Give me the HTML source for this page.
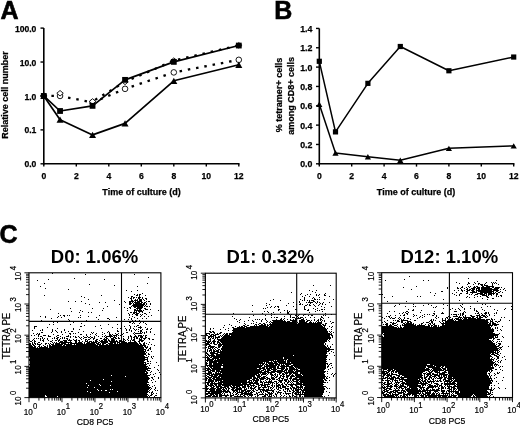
<!DOCTYPE html>
<html><head><meta charset="utf-8"><style>
html,body{margin:0;padding:0;background:#fff;width:520px;height:427px;overflow:hidden}
svg{display:block;will-change:transform}
text{font-family:"Liberation Sans", sans-serif;fill:#000}
text[font-weight="bold"]{stroke:#000;stroke-width:0.25px}
text[font-weight="normal"],text:not([font-weight]){stroke:#000;stroke-width:0.2px}
</style></head><body>
<svg width="520" height="427" viewBox="0 0 520 427">
<text x="0.40" y="18.60" font-size="25" font-weight="bold" text-anchor="start" style="stroke-width:0.6px">A</text>
<line x1="43.80" y1="28.10" x2="43.80" y2="164.55" stroke="#000" stroke-width="1.6" />
<line x1="43.00" y1="163.80" x2="239.55" y2="163.80" stroke="#000" stroke-width="1.6" />
<line x1="40.50" y1="163.80" x2="43.80" y2="163.80" stroke="#000" stroke-width="1.4" />
<text x="36.40" y="167.40" font-size="8.6" font-weight="bold" text-anchor="end" >0.0</text>
<line x1="40.50" y1="129.88" x2="43.80" y2="129.88" stroke="#000" stroke-width="1.4" />
<text x="36.40" y="133.47" font-size="8.6" font-weight="bold" text-anchor="end" >0.1</text>
<line x1="40.50" y1="95.95" x2="43.80" y2="95.95" stroke="#000" stroke-width="1.4" />
<text x="36.40" y="99.55" font-size="8.6" font-weight="bold" text-anchor="end" >1.0</text>
<line x1="40.50" y1="62.03" x2="43.80" y2="62.03" stroke="#000" stroke-width="1.4" />
<text x="36.40" y="65.62" font-size="8.6" font-weight="bold" text-anchor="end" >10.0</text>
<line x1="40.50" y1="28.10" x2="43.80" y2="28.10" stroke="#000" stroke-width="1.4" />
<text x="36.40" y="31.70" font-size="8.6" font-weight="bold" text-anchor="end" >100.0</text>
<line x1="43.80" y1="163.80" x2="43.80" y2="166.60" stroke="#000" stroke-width="1.4" />
<text x="43.80" y="179.20" font-size="8.6" font-weight="bold" text-anchor="middle" >0</text>
<line x1="76.30" y1="163.80" x2="76.30" y2="166.60" stroke="#000" stroke-width="1.4" />
<text x="76.30" y="179.20" font-size="8.6" font-weight="bold" text-anchor="middle" >2</text>
<line x1="108.80" y1="163.80" x2="108.80" y2="166.60" stroke="#000" stroke-width="1.4" />
<text x="108.80" y="179.20" font-size="8.6" font-weight="bold" text-anchor="middle" >4</text>
<line x1="141.30" y1="163.80" x2="141.30" y2="166.60" stroke="#000" stroke-width="1.4" />
<text x="141.30" y="179.20" font-size="8.6" font-weight="bold" text-anchor="middle" >6</text>
<line x1="173.80" y1="163.80" x2="173.80" y2="166.60" stroke="#000" stroke-width="1.4" />
<text x="173.80" y="179.20" font-size="8.6" font-weight="bold" text-anchor="middle" >8</text>
<line x1="206.30" y1="163.80" x2="206.30" y2="166.60" stroke="#000" stroke-width="1.4" />
<text x="206.30" y="179.20" font-size="8.6" font-weight="bold" text-anchor="middle" >10</text>
<line x1="238.80" y1="163.80" x2="238.80" y2="166.60" stroke="#000" stroke-width="1.4" />
<text x="238.80" y="179.20" font-size="8.6" font-weight="bold" text-anchor="middle" >12</text>
<text x="141.50" y="195.00" font-size="9" font-weight="bold" text-anchor="middle" >Time of culture (d)</text>
<text transform="translate(8.3,95) rotate(-90)" font-size="9" font-weight="bold" text-anchor="middle">Relative cell number</text>
<path d="M92.55 101.42L125.05 81.87L173.80 60.62L238.80 45.36" fill="none" stroke="#000" stroke-width="2.3" stroke-linejoin="round" stroke-dasharray="2.5 5.9" stroke-dashoffset="-3"/>
<path d="M43.80 95.95L60.05 95.95L92.55 102.53L125.05 88.84L173.80 72.39L238.80 59.84" fill="none" stroke="#000" stroke-width="2.3" stroke-linejoin="round" stroke-dasharray="2.5 5.9" stroke-dashoffset="0.8"/>
<path d="M43.80 95.95L60.05 119.66L92.55 134.92L125.05 123.42L173.80 80.78L238.80 64.77" fill="none" stroke="#000" stroke-width="1.7" stroke-linejoin="round" />
<path d="M43.80 95.95L60.05 111.00L92.55 105.87L125.05 79.86L173.80 61.88L238.80 45.55" fill="none" stroke="#000" stroke-width="1.7" stroke-linejoin="round" />
<circle cx="43.80" cy="95.95" r="2.8" fill="#fff" stroke="#000" stroke-width="0.9"/>
<circle cx="60.05" cy="95.95" r="2.8" fill="#fff" stroke="#000" stroke-width="0.9"/>
<circle cx="92.55" cy="102.53" r="2.8" fill="#fff" stroke="#000" stroke-width="0.9"/>
<circle cx="125.05" cy="88.84" r="2.8" fill="#fff" stroke="#000" stroke-width="0.9"/>
<circle cx="173.80" cy="72.39" r="2.8" fill="#fff" stroke="#000" stroke-width="0.9"/>
<circle cx="238.80" cy="59.84" r="2.8" fill="#fff" stroke="#000" stroke-width="0.9"/>
<path d="M43.80 93.20L47.05 95.95L43.80 98.70L40.55 95.95Z" fill="#fff" stroke="#000" stroke-width="0.9"/>
<path d="M60.05 90.51L63.30 93.26L60.05 96.01L56.80 93.26Z" fill="#fff" stroke="#000" stroke-width="0.9"/>
<path d="M92.55 98.67L95.80 101.42L92.55 104.17L89.30 101.42Z" fill="#fff" stroke="#000" stroke-width="0.9"/>
<path d="M125.05 79.12L128.30 81.87L125.05 84.62L121.80 81.87Z" fill="#fff" stroke="#000" stroke-width="0.9"/>
<path d="M173.80 57.87L177.05 60.62L173.80 63.37L170.55 60.62Z" fill="#fff" stroke="#000" stroke-width="0.9"/>
<path d="M238.80 42.61L242.05 45.36L238.80 48.11L235.55 45.36Z" fill="#fff" stroke="#000" stroke-width="0.9"/>
<path d="M43.80 92.80L47.30 99.10L40.30 99.10Z" fill="#000"/>
<path d="M60.05 116.51L63.55 122.81L56.55 122.81Z" fill="#000"/>
<path d="M92.55 131.77L96.05 138.07L89.05 138.07Z" fill="#000"/>
<path d="M125.05 120.27L128.55 126.57L121.55 126.57Z" fill="#000"/>
<path d="M173.80 77.63L177.30 83.93L170.30 83.93Z" fill="#000"/>
<path d="M238.80 61.62L242.30 67.92L235.30 67.92Z" fill="#000"/>
<rect x="40.90" y="93.05" width="5.8" height="5.8" fill="#000"/>
<rect x="57.15" y="108.10" width="5.8" height="5.8" fill="#000"/>
<rect x="89.65" y="102.97" width="5.8" height="5.8" fill="#000"/>
<rect x="122.15" y="76.96" width="5.8" height="5.8" fill="#000"/>
<rect x="170.90" y="58.98" width="5.8" height="5.8" fill="#000"/>
<rect x="235.90" y="42.65" width="5.8" height="5.8" fill="#000"/>
<text x="274.30" y="18.50" font-size="25" font-weight="bold" text-anchor="start" style="stroke-width:0.6px">B</text>
<line x1="319.30" y1="28.42" x2="319.30" y2="164.55" stroke="#000" stroke-width="1.6" />
<line x1="318.50" y1="163.80" x2="514.45" y2="163.80" stroke="#000" stroke-width="1.6" />
<line x1="316.00" y1="163.80" x2="319.30" y2="163.80" stroke="#000" stroke-width="1.4" />
<text x="312.40" y="167.30" font-size="8.8" font-weight="bold" text-anchor="end" >0.0</text>
<line x1="316.00" y1="144.46" x2="319.30" y2="144.46" stroke="#000" stroke-width="1.4" />
<text x="312.40" y="147.96" font-size="8.8" font-weight="bold" text-anchor="end" >0.2</text>
<line x1="316.00" y1="125.12" x2="319.30" y2="125.12" stroke="#000" stroke-width="1.4" />
<text x="312.40" y="128.62" font-size="8.8" font-weight="bold" text-anchor="end" >0.4</text>
<line x1="316.00" y1="105.78" x2="319.30" y2="105.78" stroke="#000" stroke-width="1.4" />
<text x="312.40" y="109.28" font-size="8.8" font-weight="bold" text-anchor="end" >0.6</text>
<line x1="316.00" y1="86.44" x2="319.30" y2="86.44" stroke="#000" stroke-width="1.4" />
<text x="312.40" y="89.94" font-size="8.8" font-weight="bold" text-anchor="end" >0.8</text>
<line x1="316.00" y1="67.10" x2="319.30" y2="67.10" stroke="#000" stroke-width="1.4" />
<text x="312.40" y="70.60" font-size="8.8" font-weight="bold" text-anchor="end" >1.0</text>
<line x1="316.00" y1="47.76" x2="319.30" y2="47.76" stroke="#000" stroke-width="1.4" />
<text x="312.40" y="51.26" font-size="8.8" font-weight="bold" text-anchor="end" >1.2</text>
<line x1="316.00" y1="28.42" x2="319.30" y2="28.42" stroke="#000" stroke-width="1.4" />
<text x="312.40" y="31.92" font-size="8.8" font-weight="bold" text-anchor="end" >1.4</text>
<line x1="319.30" y1="163.80" x2="319.30" y2="166.60" stroke="#000" stroke-width="1.4" />
<text x="319.30" y="179.20" font-size="8.6" font-weight="bold" text-anchor="middle" >0</text>
<line x1="351.70" y1="163.80" x2="351.70" y2="166.60" stroke="#000" stroke-width="1.4" />
<text x="351.70" y="179.20" font-size="8.6" font-weight="bold" text-anchor="middle" >2</text>
<line x1="384.10" y1="163.80" x2="384.10" y2="166.60" stroke="#000" stroke-width="1.4" />
<text x="384.10" y="179.20" font-size="8.6" font-weight="bold" text-anchor="middle" >4</text>
<line x1="416.50" y1="163.80" x2="416.50" y2="166.60" stroke="#000" stroke-width="1.4" />
<text x="416.50" y="179.20" font-size="8.6" font-weight="bold" text-anchor="middle" >6</text>
<line x1="448.90" y1="163.80" x2="448.90" y2="166.60" stroke="#000" stroke-width="1.4" />
<text x="448.90" y="179.20" font-size="8.6" font-weight="bold" text-anchor="middle" >8</text>
<line x1="481.30" y1="163.80" x2="481.30" y2="166.60" stroke="#000" stroke-width="1.4" />
<text x="481.30" y="179.20" font-size="8.6" font-weight="bold" text-anchor="middle" >10</text>
<line x1="513.70" y1="163.80" x2="513.70" y2="166.60" stroke="#000" stroke-width="1.4" />
<text x="513.70" y="179.20" font-size="8.6" font-weight="bold" text-anchor="middle" >12</text>
<text x="416.00" y="195.00" font-size="9" font-weight="bold" text-anchor="middle" >Time of culture (d)</text>
<text transform="translate(282.3,95) rotate(-90)" font-size="9" font-weight="bold" text-anchor="middle">% tetramer+ cells</text>
<text transform="translate(293.5,95.8) rotate(-90)" font-size="9" font-weight="bold" text-anchor="middle">among CD8+ cells</text>
<path d="M319.30 61.30L335.50 131.89L367.90 83.35L400.30 46.50L448.90 70.77L513.70 57.04" fill="none" stroke="#000" stroke-width="1.5" stroke-linejoin="round" />
<path d="M319.30 104.23L335.50 152.97L367.90 156.74L400.30 160.22L448.90 148.33L513.70 145.91" fill="none" stroke="#000" stroke-width="1.5" stroke-linejoin="round" />
<rect x="316.70" y="58.70" width="5.2" height="5.2" fill="#000"/>
<rect x="332.90" y="129.29" width="5.2" height="5.2" fill="#000"/>
<rect x="365.30" y="80.75" width="5.2" height="5.2" fill="#000"/>
<rect x="397.70" y="43.90" width="5.2" height="5.2" fill="#000"/>
<rect x="446.30" y="68.17" width="5.2" height="5.2" fill="#000"/>
<rect x="511.10" y="54.44" width="5.2" height="5.2" fill="#000"/>
<path d="M319.30 101.53L322.40 106.93L316.20 106.93Z" fill="#000"/>
<path d="M335.50 150.27L338.60 155.67L332.40 155.67Z" fill="#000"/>
<path d="M367.90 154.04L371.00 159.44L364.80 159.44Z" fill="#000"/>
<path d="M400.30 157.52L403.40 162.92L397.20 162.92Z" fill="#000"/>
<path d="M448.90 145.63L452.00 151.03L445.80 151.03Z" fill="#000"/>
<path d="M513.70 143.21L516.80 148.61L510.60 148.61Z" fill="#000"/>
<path d="M52 273h1v1h-1zM85 274h1v1h-1zM134 274h1v1h-1zM409 276h1v1h-1zM148 277h1v1h-1zM74 278h1v1h-1zM468 278h1v1h-1zM48 279h1v1h-1zM104 279h1v1h-1zM404 279h1v1h-1zM37 280h1v1h-1zM385 280h1v1h-1zM423 280h1v1h-1zM428 280h1v1h-1zM496 280h1v1h-1zM477 281h1v1h-1zM456 282h1v1h-1zM468 282h1v1h-1zM474 282h1v1h-1zM486 282h1v1h-1zM491 282h1v1h-1zM493 282h1v1h-1zM495 282h1v1h-1zM44 283h1v1h-1zM147 283h1v1h-1zM459 283h1v1h-1zM468 283h2v1h-2zM475 283h1v1h-1zM478 283h2v1h-2zM485 283h1v1h-1zM492 283h1v1h-1zM494 283h1v1h-1zM496 283h1v1h-1zM89 284h1v1h-1zM467 284h1v1h-1zM473 284h1v1h-1zM478 284h1v1h-1zM480 284h3v1h-3zM484 284h1v1h-1zM492 284h1v1h-1zM498 284h1v1h-1zM114 285h1v1h-1zM313 285h1v1h-1zM330 285h1v1h-1zM481 285h2v1h-2zM484 285h4v1h-4zM492 285h1v1h-1zM40 286h1v1h-1zM137 286h1v1h-1zM416 286h1v1h-1zM449 286h1v1h-1zM462 286h1v1h-1zM468 286h1v1h-1zM470 286h1v1h-1zM474 286h1v1h-1zM476 286h2v1h-2zM482 286h2v1h-2zM486 286h8v1h-8zM403 287h1v1h-1zM447 287h1v1h-1zM457 287h1v1h-1zM461 287h2v1h-2zM466 287h1v1h-1zM469 287h1v1h-1zM473 287h3v1h-3zM477 287h3v1h-3zM481 287h9v1h-9zM492 287h2v1h-2zM495 287h5v1h-5zM501 287h1v1h-1zM45 288h1v1h-1zM447 288h1v1h-1zM457 288h2v1h-2zM460 288h1v1h-1zM464 288h1v1h-1zM467 288h1v1h-1zM471 288h4v1h-4zM476 288h4v1h-4zM481 288h11v1h-11zM494 288h5v1h-5zM504 288h1v1h-1zM68 289h1v1h-1zM411 289h1v1h-1zM461 289h1v1h-1zM466 289h2v1h-2zM469 289h2v1h-2zM472 289h3v1h-3zM476 289h1v1h-1zM478 289h2v1h-2zM481 289h17v1h-17zM500 289h1v1h-1zM503 289h1v1h-1zM126 290h1v1h-1zM137 290h1v1h-1zM309 290h1v1h-1zM316 290h1v1h-1zM454 290h1v1h-1zM458 290h1v1h-1zM461 290h2v1h-2zM464 290h1v1h-1zM467 290h3v1h-3zM471 290h3v1h-3zM476 290h16v1h-16zM493 290h6v1h-6zM505 290h1v1h-1zM131 291h1v1h-1zM312 291h1v1h-1zM441 291h2v1h-2zM462 291h1v1h-1zM466 291h2v1h-2zM472 291h3v1h-3zM476 291h1v1h-1zM478 291h16v1h-16zM496 291h2v1h-2zM500 291h1v1h-1zM291 292h1v1h-1zM315 292h1v1h-1zM430 292h1v1h-1zM456 292h1v1h-1zM467 292h1v1h-1zM470 292h7v1h-7zM480 292h12v1h-12zM493 292h1v1h-1zM495 292h1v1h-1zM498 292h2v1h-2zM502 292h1v1h-1zM142 293h1v1h-1zM301 293h1v1h-1zM325 293h1v1h-1zM435 293h1v1h-1zM452 293h1v1h-1zM460 293h2v1h-2zM466 293h2v1h-2zM472 293h1v1h-1zM477 293h6v1h-6zM484 293h3v1h-3zM488 293h7v1h-7zM496 293h2v1h-2zM134 294h1v1h-1zM137 294h1v1h-1zM139 294h2v1h-2zM300 294h1v1h-1zM307 294h1v1h-1zM310 294h1v1h-1zM316 294h1v1h-1zM319 294h1v1h-1zM324 294h1v1h-1zM382 294h1v1h-1zM454 294h1v1h-1zM459 294h1v1h-1zM469 294h1v1h-1zM471 294h1v1h-1zM475 294h3v1h-3zM480 294h5v1h-5zM486 294h1v1h-1zM488 294h4v1h-4zM493 294h1v1h-1zM496 294h2v1h-2zM44 295h1v1h-1zM101 295h1v1h-1zM136 295h2v1h-2zM139 295h1v1h-1zM145 295h1v1h-1zM305 295h1v1h-1zM316 295h1v1h-1zM318 295h1v1h-1zM324 295h2v1h-2zM434 295h1v1h-1zM456 295h1v1h-1zM459 295h1v1h-1zM474 295h1v1h-1zM482 295h5v1h-5zM488 295h1v1h-1zM491 295h1v1h-1zM496 295h1v1h-1zM500 295h2v1h-2zM81 296h1v1h-1zM131 296h2v1h-2zM139 296h1v1h-1zM302 296h1v1h-1zM309 296h1v1h-1zM329 296h1v1h-1zM392 296h1v1h-1zM417 296h1v1h-1zM420 296h1v1h-1zM467 296h1v1h-1zM477 296h1v1h-1zM480 296h1v1h-1zM486 296h2v1h-2zM496 296h1v1h-1zM498 296h1v1h-1zM501 296h1v1h-1zM84 297h1v1h-1zM128 297h1v1h-1zM131 297h1v1h-1zM133 297h2v1h-2zM136 297h1v1h-1zM138 297h3v1h-3zM142 297h1v1h-1zM304 297h1v1h-1zM313 297h1v1h-1zM319 297h1v1h-1zM384 297h1v1h-1zM466 297h1v1h-1zM469 297h1v1h-1zM474 297h1v1h-1zM487 297h2v1h-2zM130 298h2v1h-2zM133 298h1v1h-1zM138 298h2v1h-2zM142 298h1v1h-1zM145 298h2v1h-2zM304 298h1v1h-1zM312 298h1v1h-1zM314 298h1v1h-1zM482 298h1v1h-1zM492 298h2v1h-2zM88 299h1v1h-1zM131 299h1v1h-1zM135 299h1v1h-1zM137 299h1v1h-1zM139 299h3v1h-3zM143 299h1v1h-1zM146 299h1v1h-1zM273 299h1v1h-1zM300 299h1v1h-1zM304 299h1v1h-1zM314 299h2v1h-2zM317 299h1v1h-1zM319 299h1v1h-1zM324 299h1v1h-1zM333 299h1v1h-1zM443 299h1v1h-1zM487 299h1v1h-1zM114 300h1v1h-1zM131 300h2v1h-2zM134 300h4v1h-4zM139 300h3v1h-3zM144 300h1v1h-1zM270 300h1v1h-1zM280 300h1v1h-1zM302 300h1v1h-1zM304 300h1v1h-1zM307 300h1v1h-1zM309 300h1v1h-1zM311 300h3v1h-3zM459 300h1v1h-1zM68 301h1v1h-1zM75 301h1v1h-1zM81 301h1v1h-1zM124 301h1v1h-1zM129 301h5v1h-5zM135 301h1v1h-1zM137 301h5v1h-5zM146 301h1v1h-1zM148 301h2v1h-2zM299 301h1v1h-1zM309 301h1v1h-1zM313 301h2v1h-2zM317 301h1v1h-1zM387 301h1v1h-1zM406 301h1v1h-1zM477 301h1v1h-1zM99 302h1v1h-1zM105 302h1v1h-1zM125 302h1v1h-1zM129 302h2v1h-2zM132 302h1v1h-1zM134 302h6v1h-6zM141 302h2v1h-2zM144 302h2v1h-2zM293 302h1v1h-1zM299 302h1v1h-1zM306 302h1v1h-1zM308 302h5v1h-5zM315 302h1v1h-1zM317 302h1v1h-1zM319 302h1v1h-1zM323 302h1v1h-1zM329 302h1v1h-1zM85 303h1v1h-1zM129 303h3v1h-3zM133 303h1v1h-1zM135 303h7v1h-7zM143 303h2v1h-2zM146 303h1v1h-1zM150 303h1v1h-1zM266 303h1v1h-1zM288 303h1v1h-1zM300 303h1v1h-1zM310 303h1v1h-1zM316 303h1v1h-1zM320 303h1v1h-1zM322 303h1v1h-1zM89 304h1v1h-1zM119 304h1v1h-1zM129 304h2v1h-2zM133 304h12v1h-12zM146 304h1v1h-1zM150 304h1v1h-1zM269 304h1v1h-1zM296 304h1v1h-1zM299 304h2v1h-2zM302 304h1v1h-1zM307 304h1v1h-1zM309 304h1v1h-1zM313 304h1v1h-1zM319 304h1v1h-1zM322 304h1v1h-1zM325 304h1v1h-1zM399 304h1v1h-1zM413 304h1v1h-1zM428 304h1v1h-1zM443 304h1v1h-1zM462 304h1v1h-1zM482 304h1v1h-1zM485 304h1v1h-1zM132 305h12v1h-12zM145 305h1v1h-1zM252 305h1v1h-1zM266 305h1v1h-1zM286 305h1v1h-1zM305 305h2v1h-2zM309 305h2v1h-2zM314 305h1v1h-1zM318 305h1v1h-1zM395 305h1v1h-1zM423 305h1v1h-1zM431 305h1v1h-1zM447 305h1v1h-1zM460 305h1v1h-1zM107 306h1v1h-1zM131 306h1v1h-1zM133 306h10v1h-10zM144 306h1v1h-1zM146 306h2v1h-2zM149 306h1v1h-1zM271 306h1v1h-1zM275 306h1v1h-1zM277 306h2v1h-2zM293 306h1v1h-1zM304 306h1v1h-1zM315 306h1v1h-1zM321 306h1v1h-1zM331 306h1v1h-1zM394 306h1v1h-1zM405 306h1v1h-1zM413 306h1v1h-1zM415 306h1v1h-1zM436 306h1v1h-1zM461 306h1v1h-1zM470 306h1v1h-1zM487 306h1v1h-1zM490 306h1v1h-1zM511 306h1v1h-1zM124 307h1v1h-1zM129 307h2v1h-2zM134 307h2v1h-2zM137 307h6v1h-6zM267 307h1v1h-1zM270 307h1v1h-1zM274 307h1v1h-1zM278 307h1v1h-1zM304 307h1v1h-1zM324 307h1v1h-1zM433 307h1v1h-1zM435 307h1v1h-1zM462 307h1v1h-1zM481 307h1v1h-1zM70 308h1v1h-1zM92 308h1v1h-1zM103 308h1v1h-1zM127 308h1v1h-1zM130 308h1v1h-1zM136 308h6v1h-6zM144 308h2v1h-2zM263 308h1v1h-1zM265 308h1v1h-1zM304 308h1v1h-1zM313 308h1v1h-1zM317 308h1v1h-1zM443 308h1v1h-1zM452 308h1v1h-1zM458 308h1v1h-1zM464 308h1v1h-1zM470 308h1v1h-1zM474 308h1v1h-1zM505 308h1v1h-1zM50 309h1v1h-1zM134 309h2v1h-2zM137 309h1v1h-1zM139 309h2v1h-2zM145 309h3v1h-3zM150 309h1v1h-1zM278 309h2v1h-2zM295 309h2v1h-2zM304 309h2v1h-2zM308 309h1v1h-1zM315 309h1v1h-1zM321 309h2v1h-2zM324 309h1v1h-1zM408 309h1v1h-1zM413 309h1v1h-1zM450 309h1v1h-1zM455 309h1v1h-1zM459 309h1v1h-1zM464 309h1v1h-1zM474 309h1v1h-1zM482 309h1v1h-1zM494 309h1v1h-1zM504 309h1v1h-1zM511 309h1v1h-1zM80 310h1v1h-1zM102 310h1v1h-1zM127 310h1v1h-1zM134 310h8v1h-8zM143 310h1v1h-1zM158 310h1v1h-1zM278 310h1v1h-1zM284 310h1v1h-1zM287 310h1v1h-1zM307 310h2v1h-2zM317 310h1v1h-1zM319 310h1v1h-1zM412 310h2v1h-2zM421 310h1v1h-1zM460 310h1v1h-1zM474 310h1v1h-1zM476 310h1v1h-1zM484 310h1v1h-1zM497 310h1v1h-1zM71 311h1v1h-1zM82 311h1v1h-1zM134 311h1v1h-1zM136 311h1v1h-1zM138 311h5v1h-5zM252 311h1v1h-1zM264 311h1v1h-1zM267 311h1v1h-1zM287 311h1v1h-1zM289 311h1v1h-1zM315 311h1v1h-1zM322 311h1v1h-1zM389 311h1v1h-1zM394 311h1v1h-1zM406 311h2v1h-2zM434 311h1v1h-1zM454 311h3v1h-3zM464 311h1v1h-1zM476 311h2v1h-2zM79 312h1v1h-1zM88 312h1v1h-1zM91 312h1v1h-1zM130 312h2v1h-2zM133 312h4v1h-4zM139 312h1v1h-1zM142 312h1v1h-1zM149 312h1v1h-1zM268 312h1v1h-1zM273 312h1v1h-1zM280 312h1v1h-1zM287 312h2v1h-2zM309 312h1v1h-1zM403 312h1v1h-1zM405 312h1v1h-1zM408 312h1v1h-1zM420 312h1v1h-1zM442 312h1v1h-1zM463 312h1v1h-1zM465 312h1v1h-1zM478 312h1v1h-1zM485 312h2v1h-2zM488 312h1v1h-1zM496 312h1v1h-1zM58 313h1v1h-1zM128 313h1v1h-1zM133 313h2v1h-2zM136 313h3v1h-3zM144 313h2v1h-2zM233 313h1v1h-1zM262 313h1v1h-1zM271 313h1v1h-1zM287 313h2v1h-2zM325 313h1v1h-1zM387 313h1v1h-1zM399 313h1v1h-1zM402 313h1v1h-1zM406 313h2v1h-2zM433 313h2v1h-2zM441 313h3v1h-3zM460 313h1v1h-1zM462 313h2v1h-2zM475 313h1v1h-1zM477 313h2v1h-2zM481 313h1v1h-1zM484 313h3v1h-3zM488 313h1v1h-1zM494 313h1v1h-1zM496 313h1v1h-1zM129 314h1v1h-1zM132 314h1v1h-1zM135 314h3v1h-3zM140 314h1v1h-1zM142 314h1v1h-1zM146 314h1v1h-1zM274 314h1v1h-1zM289 314h1v1h-1zM291 314h1v1h-1zM299 314h1v1h-1zM304 314h2v1h-2zM331 314h1v1h-1zM404 314h1v1h-1zM407 314h1v1h-1zM413 314h1v1h-1zM424 314h1v1h-1zM427 314h1v1h-1zM429 314h1v1h-1zM434 314h1v1h-1zM451 314h1v1h-1zM453 314h4v1h-4zM458 314h1v1h-1zM460 314h1v1h-1zM462 314h2v1h-2zM479 314h1v1h-1zM482 314h1v1h-1zM485 314h1v1h-1zM489 314h1v1h-1zM60 315h1v1h-1zM63 315h2v1h-2zM67 315h1v1h-1zM69 315h1v1h-1zM80 315h1v1h-1zM99 315h1v1h-1zM129 315h1v1h-1zM136 315h2v1h-2zM141 315h1v1h-1zM151 315h1v1h-1zM253 315h1v1h-1zM265 315h1v1h-1zM271 315h1v1h-1zM290 315h1v1h-1zM295 315h2v1h-2zM298 315h1v1h-1zM303 315h1v1h-1zM308 315h1v1h-1zM311 315h2v1h-2zM323 315h1v1h-1zM325 315h1v1h-1zM390 315h1v1h-1zM395 315h1v1h-1zM400 315h1v1h-1zM403 315h2v1h-2zM414 315h1v1h-1zM416 315h1v1h-1zM422 315h1v1h-1zM432 315h2v1h-2zM436 315h1v1h-1zM449 315h1v1h-1zM456 315h1v1h-1zM460 315h1v1h-1zM462 315h1v1h-1zM465 315h1v1h-1zM470 315h2v1h-2zM476 315h4v1h-4zM481 315h4v1h-4zM486 315h1v1h-1zM489 315h1v1h-1zM494 315h1v1h-1zM40 316h1v1h-1zM45 316h1v1h-1zM58 316h1v1h-1zM64 316h1v1h-1zM88 316h1v1h-1zM132 316h1v1h-1zM140 316h1v1h-1zM144 316h1v1h-1zM148 316h1v1h-1zM232 316h1v1h-1zM284 316h1v1h-1zM290 316h1v1h-1zM297 316h1v1h-1zM321 316h1v1h-1zM386 316h1v1h-1zM388 316h2v1h-2zM413 316h1v1h-1zM420 316h1v1h-1zM424 316h1v1h-1zM436 316h1v1h-1zM448 316h1v1h-1zM453 316h5v1h-5zM459 316h1v1h-1zM463 316h1v1h-1zM465 316h1v1h-1zM471 316h4v1h-4zM477 316h1v1h-1zM479 316h2v1h-2zM483 316h3v1h-3zM487 316h1v1h-1zM45 317h1v1h-1zM57 317h1v1h-1zM61 317h1v1h-1zM78 317h1v1h-1zM80 317h1v1h-1zM96 317h1v1h-1zM116 317h1v1h-1zM129 317h1v1h-1zM134 317h1v1h-1zM249 317h1v1h-1zM271 317h1v1h-1zM274 317h1v1h-1zM276 317h2v1h-2zM290 317h1v1h-1zM292 317h3v1h-3zM296 317h1v1h-1zM298 317h1v1h-1zM300 317h3v1h-3zM305 317h1v1h-1zM310 317h1v1h-1zM314 317h1v1h-1zM321 317h2v1h-2zM328 317h1v1h-1zM382 317h1v1h-1zM389 317h1v1h-1zM391 317h1v1h-1zM395 317h1v1h-1zM399 317h1v1h-1zM404 317h1v1h-1zM419 317h1v1h-1zM422 317h1v1h-1zM435 317h1v1h-1zM438 317h1v1h-1zM446 317h2v1h-2zM450 317h1v1h-1zM458 317h4v1h-4zM463 317h8v1h-8zM472 317h2v1h-2zM476 317h2v1h-2zM479 317h4v1h-4zM485 317h2v1h-2zM501 317h1v1h-1zM504 317h1v1h-1zM51 318h1v1h-1zM107 318h2v1h-2zM131 318h1v1h-1zM137 318h1v1h-1zM142 318h1v1h-1zM146 318h1v1h-1zM234 318h1v1h-1zM265 318h1v1h-1zM281 318h1v1h-1zM284 318h1v1h-1zM295 318h1v1h-1zM297 318h4v1h-4zM303 318h1v1h-1zM320 318h1v1h-1zM323 318h1v1h-1zM384 318h1v1h-1zM390 318h1v1h-1zM392 318h3v1h-3zM398 318h1v1h-1zM400 318h1v1h-1zM404 318h1v1h-1zM407 318h2v1h-2zM417 318h1v1h-1zM436 318h1v1h-1zM442 318h1v1h-1zM445 318h1v1h-1zM447 318h1v1h-1zM449 318h1v1h-1zM452 318h1v1h-1zM455 318h4v1h-4zM460 318h1v1h-1zM462 318h1v1h-1zM464 318h3v1h-3zM468 318h8v1h-8zM477 318h4v1h-4zM491 318h1v1h-1zM68 319h1v1h-1zM98 319h1v1h-1zM109 319h1v1h-1zM124 319h1v1h-1zM128 319h1v1h-1zM131 319h1v1h-1zM236 319h1v1h-1zM240 319h1v1h-1zM255 319h1v1h-1zM257 319h1v1h-1zM259 319h1v1h-1zM262 319h1v1h-1zM265 319h1v1h-1zM276 319h1v1h-1zM280 319h2v1h-2zM283 319h1v1h-1zM287 319h1v1h-1zM290 319h1v1h-1zM293 319h1v1h-1zM295 319h2v1h-2zM301 319h3v1h-3zM306 319h1v1h-1zM314 319h1v1h-1zM318 319h1v1h-1zM320 319h2v1h-2zM399 319h1v1h-1zM401 319h1v1h-1zM403 319h1v1h-1zM410 319h1v1h-1zM431 319h1v1h-1zM433 319h1v1h-1zM442 319h1v1h-1zM445 319h1v1h-1zM448 319h1v1h-1zM450 319h3v1h-3zM454 319h1v1h-1zM456 319h6v1h-6zM463 319h22v1h-22zM486 319h4v1h-4zM491 319h2v1h-2zM494 319h1v1h-1zM500 319h1v1h-1zM41 320h1v1h-1zM69 320h1v1h-1zM86 320h1v1h-1zM132 320h1v1h-1zM135 320h1v1h-1zM139 320h1v1h-1zM239 320h1v1h-1zM248 320h1v1h-1zM252 320h1v1h-1zM261 320h1v1h-1zM266 320h1v1h-1zM272 320h11v1h-11zM284 320h1v1h-1zM290 320h7v1h-7zM299 320h6v1h-6zM307 320h3v1h-3zM311 320h1v1h-1zM314 320h1v1h-1zM317 320h2v1h-2zM320 320h1v1h-1zM322 320h1v1h-1zM324 320h1v1h-1zM387 320h1v1h-1zM393 320h1v1h-1zM395 320h1v1h-1zM397 320h2v1h-2zM401 320h7v1h-7zM414 320h2v1h-2zM430 320h2v1h-2zM433 320h1v1h-1zM435 320h1v1h-1zM442 320h4v1h-4zM447 320h7v1h-7zM455 320h1v1h-1zM458 320h30v1h-30zM490 320h1v1h-1zM492 320h1v1h-1zM500 320h1v1h-1zM509 320h1v1h-1zM75 321h1v1h-1zM86 321h1v1h-1zM92 321h1v1h-1zM118 321h1v1h-1zM133 321h1v1h-1zM135 321h1v1h-1zM138 321h1v1h-1zM237 321h1v1h-1zM244 321h1v1h-1zM253 321h1v1h-1zM261 321h1v1h-1zM267 321h1v1h-1zM270 321h1v1h-1zM273 321h13v1h-13zM287 321h3v1h-3zM292 321h5v1h-5zM299 321h6v1h-6zM306 321h2v1h-2zM310 321h1v1h-1zM316 321h1v1h-1zM318 321h1v1h-1zM321 321h1v1h-1zM324 321h1v1h-1zM330 321h1v1h-1zM384 321h1v1h-1zM397 321h3v1h-3zM401 321h2v1h-2zM407 321h4v1h-4zM429 321h1v1h-1zM431 321h2v1h-2zM439 321h1v1h-1zM442 321h1v1h-1zM445 321h43v1h-43zM490 321h3v1h-3zM495 321h2v1h-2zM498 321h2v1h-2zM53 322h1v1h-1zM57 322h1v1h-1zM73 322h1v1h-1zM129 322h2v1h-2zM133 322h1v1h-1zM140 322h1v1h-1zM143 322h1v1h-1zM239 322h1v1h-1zM256 322h1v1h-1zM266 322h1v1h-1zM269 322h1v1h-1zM271 322h25v1h-25zM297 322h1v1h-1zM299 322h8v1h-8zM309 322h3v1h-3zM313 322h1v1h-1zM315 322h1v1h-1zM317 322h5v1h-5zM332 322h2v1h-2zM382 322h1v1h-1zM385 322h1v1h-1zM390 322h2v1h-2zM393 322h1v1h-1zM396 322h1v1h-1zM401 322h2v1h-2zM405 322h1v1h-1zM407 322h2v1h-2zM410 322h2v1h-2zM423 322h1v1h-1zM426 322h3v1h-3zM431 322h2v1h-2zM440 322h1v1h-1zM443 322h1v1h-1zM445 322h44v1h-44zM490 322h1v1h-1zM492 322h2v1h-2zM497 322h1v1h-1zM81 323h1v1h-1zM132 323h1v1h-1zM134 323h1v1h-1zM139 323h1v1h-1zM145 323h1v1h-1zM244 323h1v1h-1zM251 323h1v1h-1zM253 323h1v1h-1zM259 323h2v1h-2zM263 323h2v1h-2zM270 323h1v1h-1zM272 323h25v1h-25zM298 323h24v1h-24zM325 323h2v1h-2zM331 323h1v1h-1zM386 323h2v1h-2zM392 323h4v1h-4zM403 323h2v1h-2zM406 323h6v1h-6zM413 323h1v1h-1zM421 323h2v1h-2zM429 323h2v1h-2zM432 323h1v1h-1zM434 323h1v1h-1zM441 323h47v1h-47zM489 323h2v1h-2zM492 323h4v1h-4zM49 324h1v1h-1zM53 324h1v1h-1zM70 324h1v1h-1zM108 324h1v1h-1zM117 324h1v1h-1zM146 324h1v1h-1zM229 324h1v1h-1zM245 324h1v1h-1zM255 324h2v1h-2zM258 324h1v1h-1zM261 324h2v1h-2zM264 324h2v1h-2zM267 324h1v1h-1zM269 324h52v1h-52zM322 324h2v1h-2zM325 324h1v1h-1zM383 324h1v1h-1zM385 324h3v1h-3zM390 324h1v1h-1zM392 324h2v1h-2zM397 324h1v1h-1zM402 324h1v1h-1zM404 324h10v1h-10zM415 324h1v1h-1zM419 324h1v1h-1zM421 324h1v1h-1zM425 324h1v1h-1zM428 324h1v1h-1zM430 324h1v1h-1zM433 324h2v1h-2zM442 324h2v1h-2zM445 324h46v1h-46zM492 324h7v1h-7zM84 325h1v1h-1zM100 325h1v1h-1zM129 325h1v1h-1zM137 325h2v1h-2zM224 325h1v1h-1zM231 325h1v1h-1zM243 325h2v1h-2zM247 325h2v1h-2zM254 325h1v1h-1zM256 325h1v1h-1zM259 325h7v1h-7zM267 325h2v1h-2zM270 325h52v1h-52zM323 325h3v1h-3zM386 325h2v1h-2zM389 325h3v1h-3zM394 325h3v1h-3zM400 325h1v1h-1zM402 325h14v1h-14zM417 325h8v1h-8zM428 325h2v1h-2zM431 325h2v1h-2zM434 325h3v1h-3zM438 325h1v1h-1zM442 325h51v1h-51zM494 325h3v1h-3zM34 326h3v1h-3zM80 326h2v1h-2zM95 326h1v1h-1zM124 326h1v1h-1zM130 326h1v1h-1zM134 326h1v1h-1zM136 326h1v1h-1zM140 326h1v1h-1zM235 326h1v1h-1zM239 326h1v1h-1zM241 326h2v1h-2zM244 326h3v1h-3zM250 326h18v1h-18zM269 326h54v1h-54zM324 326h1v1h-1zM329 326h1v1h-1zM332 326h1v1h-1zM382 326h12v1h-12zM397 326h1v1h-1zM400 326h1v1h-1zM404 326h26v1h-26zM431 326h1v1h-1zM433 326h4v1h-4zM438 326h1v1h-1zM440 326h50v1h-50zM491 326h1v1h-1zM502 326h1v1h-1zM34 327h1v1h-1zM47 327h1v1h-1zM112 327h1v1h-1zM130 327h1v1h-1zM138 327h4v1h-4zM145 327h1v1h-1zM223 327h1v1h-1zM232 327h2v1h-2zM237 327h8v1h-8zM246 327h79v1h-79zM331 327h1v1h-1zM382 327h15v1h-15zM398 327h1v1h-1zM400 327h2v1h-2zM403 327h88v1h-88zM495 327h1v1h-1zM497 327h1v1h-1zM34 328h1v1h-1zM57 328h1v1h-1zM73 328h1v1h-1zM101 328h1v1h-1zM117 328h1v1h-1zM120 328h1v1h-1zM125 328h1v1h-1zM130 328h1v1h-1zM133 328h1v1h-1zM140 328h1v1h-1zM147 328h1v1h-1zM151 328h1v1h-1zM210 328h1v1h-1zM213 328h1v1h-1zM228 328h1v1h-1zM233 328h93v1h-93zM327 328h1v1h-1zM382 328h109v1h-109zM492 328h1v1h-1zM495 328h1v1h-1zM497 328h1v1h-1zM42 329h1v1h-1zM52 329h1v1h-1zM64 329h1v1h-1zM73 329h1v1h-1zM79 329h1v1h-1zM121 329h1v1h-1zM126 329h1v1h-1zM129 329h1v1h-1zM134 329h1v1h-1zM136 329h1v1h-1zM138 329h1v1h-1zM142 329h1v1h-1zM146 329h2v1h-2zM150 329h1v1h-1zM210 329h1v1h-1zM220 329h1v1h-1zM225 329h1v1h-1zM233 329h94v1h-94zM331 329h1v1h-1zM382 329h112v1h-112zM500 329h1v1h-1zM32 330h1v1h-1zM40 330h1v1h-1zM42 330h1v1h-1zM52 330h1v1h-1zM55 330h1v1h-1zM64 330h1v1h-1zM117 330h1v1h-1zM126 330h1v1h-1zM129 330h1v1h-1zM131 330h1v1h-1zM135 330h1v1h-1zM140 330h2v1h-2zM228 330h1v1h-1zM232 330h95v1h-95zM382 330h112v1h-112zM497 330h1v1h-1zM501 330h1v1h-1zM52 331h1v1h-1zM56 331h1v1h-1zM61 331h1v1h-1zM68 331h1v1h-1zM71 331h2v1h-2zM83 331h1v1h-1zM108 331h1v1h-1zM117 331h2v1h-2zM131 331h1v1h-1zM138 331h1v1h-1zM140 331h2v1h-2zM146 331h1v1h-1zM150 331h1v1h-1zM209 331h2v1h-2zM212 331h2v1h-2zM233 331h95v1h-95zM329 331h1v1h-1zM331 331h1v1h-1zM382 331h112v1h-112zM41 332h2v1h-2zM51 332h1v1h-1zM57 332h1v1h-1zM61 332h1v1h-1zM65 332h1v1h-1zM78 332h1v1h-1zM91 332h1v1h-1zM93 332h1v1h-1zM102 332h1v1h-1zM107 332h1v1h-1zM109 332h1v1h-1zM126 332h2v1h-2zM134 332h1v1h-1zM140 332h1v1h-1zM142 332h1v1h-1zM144 332h1v1h-1zM146 332h1v1h-1zM150 332h1v1h-1zM210 332h2v1h-2zM213 332h2v1h-2zM220 332h2v1h-2zM232 332h96v1h-96zM330 332h1v1h-1zM333 332h1v1h-1zM382 332h111v1h-111zM33 333h1v1h-1zM37 333h1v1h-1zM39 333h1v1h-1zM69 333h2v1h-2zM73 333h1v1h-1zM75 333h1v1h-1zM92 333h1v1h-1zM96 333h1v1h-1zM104 333h1v1h-1zM109 333h1v1h-1zM115 333h1v1h-1zM118 333h1v1h-1zM123 333h1v1h-1zM133 333h1v1h-1zM135 333h7v1h-7zM144 333h1v1h-1zM206 333h4v1h-4zM214 333h1v1h-1zM217 333h1v1h-1zM219 333h2v1h-2zM224 333h1v1h-1zM226 333h2v1h-2zM229 333h101v1h-101zM331 333h1v1h-1zM382 333h1v1h-1zM384 333h111v1h-111zM499 333h1v1h-1zM36 334h1v1h-1zM38 334h2v1h-2zM53 334h1v1h-1zM62 334h1v1h-1zM70 334h1v1h-1zM80 334h2v1h-2zM86 334h1v1h-1zM90 334h1v1h-1zM95 334h1v1h-1zM102 334h1v1h-1zM109 334h2v1h-2zM112 334h1v1h-1zM116 334h2v1h-2zM121 334h2v1h-2zM134 334h1v1h-1zM154 334h1v1h-1zM206 334h1v1h-1zM209 334h1v1h-1zM211 334h3v1h-3zM215 334h4v1h-4zM223 334h1v1h-1zM225 334h3v1h-3zM229 334h103v1h-103zM383 334h116v1h-116zM31 335h1v1h-1zM34 335h1v1h-1zM38 335h1v1h-1zM43 335h3v1h-3zM48 335h1v1h-1zM57 335h2v1h-2zM68 335h1v1h-1zM86 335h1v1h-1zM96 335h1v1h-1zM105 335h1v1h-1zM109 335h3v1h-3zM113 335h4v1h-4zM118 335h1v1h-1zM120 335h1v1h-1zM130 335h1v1h-1zM135 335h1v1h-1zM138 335h4v1h-4zM143 335h1v1h-1zM145 335h2v1h-2zM206 335h2v1h-2zM210 335h2v1h-2zM213 335h3v1h-3zM220 335h1v1h-1zM222 335h1v1h-1zM224 335h6v1h-6zM231 335h99v1h-99zM331 335h2v1h-2zM384 335h114v1h-114zM38 336h1v1h-1zM40 336h2v1h-2zM48 336h3v1h-3zM56 336h1v1h-1zM60 336h1v1h-1zM66 336h3v1h-3zM70 336h1v1h-1zM73 336h1v1h-1zM75 336h1v1h-1zM78 336h1v1h-1zM83 336h1v1h-1zM87 336h1v1h-1zM90 336h1v1h-1zM94 336h1v1h-1zM98 336h1v1h-1zM102 336h1v1h-1zM104 336h1v1h-1zM106 336h7v1h-7zM114 336h1v1h-1zM116 336h1v1h-1zM123 336h1v1h-1zM128 336h1v1h-1zM130 336h2v1h-2zM134 336h3v1h-3zM138 336h1v1h-1zM140 336h3v1h-3zM145 336h1v1h-1zM208 336h6v1h-6zM215 336h1v1h-1zM218 336h2v1h-2zM221 336h1v1h-1zM223 336h107v1h-107zM332 336h1v1h-1zM382 336h1v1h-1zM384 336h110v1h-110zM495 336h1v1h-1zM497 336h1v1h-1zM502 336h1v1h-1zM42 337h1v1h-1zM54 337h1v1h-1zM57 337h2v1h-2zM62 337h1v1h-1zM64 337h1v1h-1zM70 337h1v1h-1zM75 337h2v1h-2zM79 337h1v1h-1zM81 337h1v1h-1zM84 337h3v1h-3zM88 337h2v1h-2zM91 337h2v1h-2zM94 337h1v1h-1zM105 337h2v1h-2zM110 337h1v1h-1zM113 337h3v1h-3zM118 337h1v1h-1zM128 337h1v1h-1zM131 337h1v1h-1zM133 337h2v1h-2zM136 337h2v1h-2zM140 337h3v1h-3zM145 337h2v1h-2zM208 337h2v1h-2zM211 337h1v1h-1zM213 337h1v1h-1zM215 337h5v1h-5zM222 337h109v1h-109zM332 337h1v1h-1zM382 337h112v1h-112zM495 337h3v1h-3zM503 337h1v1h-1zM34 338h1v1h-1zM36 338h1v1h-1zM38 338h1v1h-1zM40 338h1v1h-1zM42 338h1v1h-1zM44 338h1v1h-1zM47 338h1v1h-1zM52 338h1v1h-1zM54 338h1v1h-1zM56 338h2v1h-2zM60 338h1v1h-1zM62 338h1v1h-1zM64 338h1v1h-1zM66 338h2v1h-2zM80 338h1v1h-1zM83 338h1v1h-1zM90 338h1v1h-1zM93 338h2v1h-2zM100 338h2v1h-2zM104 338h1v1h-1zM106 338h2v1h-2zM111 338h3v1h-3zM115 338h2v1h-2zM118 338h2v1h-2zM123 338h1v1h-1zM128 338h1v1h-1zM131 338h1v1h-1zM134 338h1v1h-1zM136 338h2v1h-2zM139 338h1v1h-1zM141 338h1v1h-1zM143 338h3v1h-3zM148 338h2v1h-2zM208 338h1v1h-1zM210 338h1v1h-1zM212 338h2v1h-2zM215 338h1v1h-1zM217 338h1v1h-1zM221 338h110v1h-110zM382 338h110v1h-110zM493 338h2v1h-2zM33 339h1v1h-1zM40 339h1v1h-1zM43 339h1v1h-1zM47 339h1v1h-1zM57 339h1v1h-1zM59 339h1v1h-1zM67 339h1v1h-1zM69 339h1v1h-1zM73 339h1v1h-1zM76 339h1v1h-1zM81 339h1v1h-1zM85 339h2v1h-2zM88 339h2v1h-2zM93 339h1v1h-1zM96 339h2v1h-2zM103 339h4v1h-4zM108 339h1v1h-1zM111 339h4v1h-4zM123 339h2v1h-2zM127 339h1v1h-1zM131 339h1v1h-1zM133 339h2v1h-2zM139 339h3v1h-3zM144 339h1v1h-1zM149 339h1v1h-1zM152 339h2v1h-2zM209 339h2v1h-2zM214 339h1v1h-1zM217 339h111v1h-111zM329 339h1v1h-1zM382 339h107v1h-107zM493 339h1v1h-1zM497 339h3v1h-3zM29 340h1v1h-1zM32 340h1v1h-1zM34 340h1v1h-1zM40 340h1v1h-1zM42 340h2v1h-2zM48 340h1v1h-1zM52 340h1v1h-1zM55 340h2v1h-2zM58 340h2v1h-2zM63 340h4v1h-4zM68 340h4v1h-4zM74 340h3v1h-3zM78 340h2v1h-2zM85 340h1v1h-1zM87 340h1v1h-1zM95 340h2v1h-2zM99 340h1v1h-1zM101 340h2v1h-2zM104 340h3v1h-3zM108 340h2v1h-2zM111 340h4v1h-4zM116 340h1v1h-1zM119 340h3v1h-3zM123 340h1v1h-1zM125 340h1v1h-1zM128 340h1v1h-1zM130 340h1v1h-1zM132 340h3v1h-3zM139 340h5v1h-5zM206 340h1v1h-1zM208 340h1v1h-1zM210 340h1v1h-1zM213 340h2v1h-2zM218 340h109v1h-109zM328 340h1v1h-1zM382 340h109v1h-109zM492 340h1v1h-1zM30 341h2v1h-2zM34 341h2v1h-2zM43 341h1v1h-1zM50 341h2v1h-2zM58 341h1v1h-1zM60 341h3v1h-3zM64 341h3v1h-3zM70 341h1v1h-1zM75 341h2v1h-2zM79 341h1v1h-1zM82 341h1v1h-1zM85 341h3v1h-3zM89 341h3v1h-3zM93 341h1v1h-1zM95 341h3v1h-3zM100 341h8v1h-8zM109 341h9v1h-9zM119 341h6v1h-6zM130 341h1v1h-1zM134 341h2v1h-2zM138 341h2v1h-2zM141 341h2v1h-2zM206 341h5v1h-5zM212 341h4v1h-4zM217 341h2v1h-2zM220 341h107v1h-107zM329 341h1v1h-1zM382 341h110v1h-110zM493 341h1v1h-1zM497 341h1v1h-1zM499 341h1v1h-1zM501 341h1v1h-1zM32 342h1v1h-1zM34 342h1v1h-1zM38 342h2v1h-2zM52 342h1v1h-1zM54 342h1v1h-1zM56 342h1v1h-1zM59 342h13v1h-13zM75 342h2v1h-2zM78 342h4v1h-4zM84 342h1v1h-1zM87 342h3v1h-3zM91 342h6v1h-6zM98 342h2v1h-2zM101 342h7v1h-7zM110 342h6v1h-6zM117 342h3v1h-3zM122 342h5v1h-5zM128 342h9v1h-9zM139 342h1v1h-1zM144 342h1v1h-1zM149 342h1v1h-1zM207 342h3v1h-3zM211 342h1v1h-1zM213 342h2v1h-2zM217 342h3v1h-3zM221 342h104v1h-104zM382 342h111v1h-111zM496 342h1v1h-1zM29 343h2v1h-2zM32 343h1v1h-1zM34 343h2v1h-2zM37 343h1v1h-1zM41 343h1v1h-1zM45 343h2v1h-2zM48 343h1v1h-1zM50 343h1v1h-1zM53 343h1v1h-1zM55 343h5v1h-5zM61 343h5v1h-5zM68 343h1v1h-1zM70 343h13v1h-13zM84 343h1v1h-1zM86 343h9v1h-9zM96 343h3v1h-3zM100 343h1v1h-1zM102 343h4v1h-4zM108 343h5v1h-5zM114 343h2v1h-2zM117 343h1v1h-1zM119 343h19v1h-19zM139 343h2v1h-2zM143 343h2v1h-2zM146 343h1v1h-1zM206 343h3v1h-3zM210 343h2v1h-2zM213 343h2v1h-2zM217 343h1v1h-1zM219 343h2v1h-2zM222 343h102v1h-102zM325 343h1v1h-1zM382 343h113v1h-113zM498 343h3v1h-3zM29 344h2v1h-2zM32 344h2v1h-2zM35 344h1v1h-1zM37 344h4v1h-4zM45 344h1v1h-1zM49 344h1v1h-1zM51 344h3v1h-3zM55 344h8v1h-8zM64 344h8v1h-8zM74 344h1v1h-1zM76 344h20v1h-20zM97 344h4v1h-4zM102 344h2v1h-2zM106 344h2v1h-2zM109 344h30v1h-30zM140 344h2v1h-2zM143 344h2v1h-2zM148 344h1v1h-1zM151 344h1v1h-1zM206 344h4v1h-4zM214 344h3v1h-3zM218 344h106v1h-106zM325 344h1v1h-1zM332 344h1v1h-1zM382 344h113v1h-113zM496 344h1v1h-1zM499 344h2v1h-2zM29 345h3v1h-3zM33 345h2v1h-2zM39 345h1v1h-1zM43 345h1v1h-1zM47 345h1v1h-1zM49 345h2v1h-2zM52 345h10v1h-10zM63 345h2v1h-2zM66 345h32v1h-32zM99 345h47v1h-47zM154 345h1v1h-1zM206 345h1v1h-1zM209 345h2v1h-2zM218 345h4v1h-4zM223 345h102v1h-102zM327 345h1v1h-1zM382 345h114v1h-114zM498 345h2v1h-2zM29 346h4v1h-4zM34 346h2v1h-2zM38 346h2v1h-2zM41 346h1v1h-1zM44 346h2v1h-2zM47 346h1v1h-1zM49 346h94v1h-94zM144 346h2v1h-2zM147 346h1v1h-1zM208 346h7v1h-7zM218 346h3v1h-3zM222 346h104v1h-104zM327 346h1v1h-1zM330 346h1v1h-1zM382 346h117v1h-117zM502 346h1v1h-1zM508 346h1v1h-1zM29 347h7v1h-7zM37 347h1v1h-1zM39 347h9v1h-9zM49 347h95v1h-95zM145 347h3v1h-3zM150 347h1v1h-1zM206 347h1v1h-1zM208 347h1v1h-1zM210 347h4v1h-4zM215 347h2v1h-2zM218 347h2v1h-2zM222 347h105v1h-105zM328 347h1v1h-1zM330 347h1v1h-1zM382 347h115v1h-115zM499 347h3v1h-3zM29 348h115v1h-115zM146 348h1v1h-1zM149 348h2v1h-2zM208 348h3v1h-3zM212 348h1v1h-1zM214 348h1v1h-1zM217 348h1v1h-1zM221 348h109v1h-109zM382 348h117v1h-117zM500 348h1v1h-1zM29 349h117v1h-117zM148 349h1v1h-1zM150 349h1v1h-1zM207 349h1v1h-1zM210 349h2v1h-2zM213 349h1v1h-1zM215 349h1v1h-1zM218 349h2v1h-2zM221 349h113v1h-113zM382 349h116v1h-116zM499 349h1v1h-1zM501 349h1v1h-1zM29 350h115v1h-115zM145 350h1v1h-1zM147 350h2v1h-2zM207 350h1v1h-1zM209 350h3v1h-3zM213 350h2v1h-2zM216 350h3v1h-3zM220 350h1v1h-1zM222 350h105v1h-105zM328 350h2v1h-2zM382 350h117v1h-117zM29 351h117v1h-117zM151 351h1v1h-1zM207 351h1v1h-1zM209 351h1v1h-1zM211 351h1v1h-1zM213 351h6v1h-6zM220 351h109v1h-109zM331 351h1v1h-1zM382 351h112v1h-112zM495 351h1v1h-1zM497 351h1v1h-1zM499 351h1v1h-1zM29 352h116v1h-116zM146 352h1v1h-1zM206 352h1v1h-1zM210 352h5v1h-5zM217 352h110v1h-110zM333 352h1v1h-1zM382 352h114v1h-114zM497 352h2v1h-2zM29 353h117v1h-117zM148 353h1v1h-1zM206 353h2v1h-2zM210 353h8v1h-8zM220 353h107v1h-107zM329 353h1v1h-1zM382 353h109v1h-109zM492 353h2v1h-2zM495 353h3v1h-3zM500 353h1v1h-1zM29 354h117v1h-117zM148 354h2v1h-2zM207 354h2v1h-2zM211 354h3v1h-3zM216 354h110v1h-110zM382 354h108v1h-108zM491 354h4v1h-4zM497 354h2v1h-2zM29 355h115v1h-115zM146 355h1v1h-1zM206 355h1v1h-1zM208 355h7v1h-7zM216 355h77v1h-77zM294 355h34v1h-34zM334 355h1v1h-1zM382 355h109v1h-109zM494 355h3v1h-3zM499 355h1v1h-1zM29 356h116v1h-116zM148 356h1v1h-1zM151 356h1v1h-1zM153 356h1v1h-1zM207 356h1v1h-1zM209 356h1v1h-1zM211 356h116v1h-116zM382 356h110v1h-110zM496 356h3v1h-3zM504 356h1v1h-1zM30 357h118v1h-118zM151 357h1v1h-1zM206 357h3v1h-3zM210 357h2v1h-2zM213 357h70v1h-70zM284 357h43v1h-43zM382 357h108v1h-108zM492 357h1v1h-1zM497 357h2v1h-2zM502 357h1v1h-1zM30 358h115v1h-115zM147 358h1v1h-1zM152 358h1v1h-1zM207 358h3v1h-3zM212 358h7v1h-7zM220 358h63v1h-63zM284 358h42v1h-42zM382 358h108v1h-108zM491 358h1v1h-1zM494 358h1v1h-1zM497 358h2v1h-2zM29 359h119v1h-119zM207 359h7v1h-7zM215 359h1v1h-1zM217 359h70v1h-70zM288 359h39v1h-39zM329 359h1v1h-1zM382 359h112v1h-112zM496 359h1v1h-1zM505 359h1v1h-1zM29 360h116v1h-116zM147 360h1v1h-1zM206 360h7v1h-7zM214 360h60v1h-60zM275 360h1v1h-1zM277 360h7v1h-7zM285 360h1v1h-1zM287 360h39v1h-39zM382 360h110v1h-110zM493 360h1v1h-1zM498 360h1v1h-1zM501 360h1v1h-1zM30 361h114v1h-114zM147 361h2v1h-2zM150 361h1v1h-1zM207 361h1v1h-1zM209 361h60v1h-60zM271 361h1v1h-1zM273 361h13v1h-13zM287 361h40v1h-40zM382 361h111v1h-111zM495 361h1v1h-1zM497 361h1v1h-1zM500 361h1v1h-1zM30 362h116v1h-116zM156 362h1v1h-1zM206 362h1v1h-1zM209 362h8v1h-8zM218 362h45v1h-45zM264 362h1v1h-1zM266 362h7v1h-7zM274 362h3v1h-3zM278 362h8v1h-8zM287 362h3v1h-3zM291 362h35v1h-35zM382 362h113v1h-113zM498 362h1v1h-1zM500 362h1v1h-1zM30 363h114v1h-114zM145 363h1v1h-1zM147 363h2v1h-2zM150 363h1v1h-1zM206 363h2v1h-2zM209 363h3v1h-3zM213 363h52v1h-52zM266 363h1v1h-1zM268 363h10v1h-10zM279 363h49v1h-49zM330 363h2v1h-2zM382 363h112v1h-112zM495 363h1v1h-1zM29 364h118v1h-118zM206 364h1v1h-1zM209 364h3v1h-3zM213 364h9v1h-9zM223 364h36v1h-36zM260 364h1v1h-1zM262 364h2v1h-2zM265 364h3v1h-3zM269 364h5v1h-5zM275 364h5v1h-5zM281 364h1v1h-1zM283 364h1v1h-1zM285 364h6v1h-6zM293 364h33v1h-33zM327 364h1v1h-1zM329 364h1v1h-1zM382 364h45v1h-45zM430 364h63v1h-63zM494 364h4v1h-4zM30 365h116v1h-116zM149 365h1v1h-1zM158 365h1v1h-1zM206 365h57v1h-57zM264 365h1v1h-1zM266 365h11v1h-11zM278 365h2v1h-2zM281 365h4v1h-4zM286 365h3v1h-3zM291 365h35v1h-35zM328 365h1v1h-1zM331 365h1v1h-1zM382 365h51v1h-51zM434 365h59v1h-59zM494 365h1v1h-1zM496 365h1v1h-1zM498 365h1v1h-1zM30 366h118v1h-118zM207 366h1v1h-1zM209 366h12v1h-12zM223 366h39v1h-39zM264 366h12v1h-12zM277 366h2v1h-2zM280 366h13v1h-13zM294 366h32v1h-32zM327 366h2v1h-2zM382 366h44v1h-44zM427 366h8v1h-8zM436 366h5v1h-5zM442 366h2v1h-2zM445 366h46v1h-46zM492 366h1v1h-1zM495 366h1v1h-1zM500 366h1v1h-1zM502 366h1v1h-1zM29 367h118v1h-118zM148 367h1v1h-1zM154 367h1v1h-1zM208 367h1v1h-1zM210 367h2v1h-2zM213 367h8v1h-8zM223 367h38v1h-38zM262 367h3v1h-3zM266 367h2v1h-2zM269 367h7v1h-7zM277 367h2v1h-2zM281 367h4v1h-4zM286 367h1v1h-1zM289 367h5v1h-5zM295 367h1v1h-1zM297 367h29v1h-29zM327 367h1v1h-1zM332 367h1v1h-1zM382 367h44v1h-44zM428 367h12v1h-12zM441 367h2v1h-2zM445 367h49v1h-49zM499 367h1v1h-1zM29 368h122v1h-122zM206 368h4v1h-4zM211 368h46v1h-46zM259 368h6v1h-6zM266 368h6v1h-6zM273 368h3v1h-3zM277 368h8v1h-8zM286 368h2v1h-2zM289 368h6v1h-6zM296 368h1v1h-1zM298 368h28v1h-28zM330 368h1v1h-1zM382 368h43v1h-43zM426 368h3v1h-3zM432 368h9v1h-9zM442 368h4v1h-4zM447 368h47v1h-47zM29 369h119v1h-119zM157 369h1v1h-1zM207 369h4v1h-4zM212 369h49v1h-49zM263 369h3v1h-3zM267 369h3v1h-3zM271 369h6v1h-6zM281 369h3v1h-3zM285 369h3v1h-3zM289 369h9v1h-9zM300 369h25v1h-25zM328 369h1v1h-1zM383 369h4v1h-4zM388 369h5v1h-5zM394 369h36v1h-36zM431 369h1v1h-1zM433 369h9v1h-9zM443 369h3v1h-3zM447 369h45v1h-45zM495 369h2v1h-2zM500 369h1v1h-1zM29 370h117v1h-117zM147 370h3v1h-3zM158 370h1v1h-1zM206 370h3v1h-3zM210 370h5v1h-5zM216 370h4v1h-4zM221 370h39v1h-39zM261 370h3v1h-3zM265 370h1v1h-1zM267 370h4v1h-4zM273 370h3v1h-3zM277 370h6v1h-6zM284 370h3v1h-3zM288 370h5v1h-5zM294 370h1v1h-1zM296 370h28v1h-28zM383 370h1v1h-1zM387 370h4v1h-4zM392 370h3v1h-3zM396 370h33v1h-33zM430 370h1v1h-1zM432 370h12v1h-12zM445 370h45v1h-45zM491 370h2v1h-2zM502 370h1v1h-1zM29 371h118v1h-118zM151 371h1v1h-1zM208 371h3v1h-3zM212 371h3v1h-3zM216 371h46v1h-46zM264 371h5v1h-5zM271 371h14v1h-14zM286 371h1v1h-1zM288 371h6v1h-6zM295 371h31v1h-31zM327 371h1v1h-1zM382 371h5v1h-5zM388 371h2v1h-2zM391 371h3v1h-3zM395 371h30v1h-30zM428 371h2v1h-2zM431 371h2v1h-2zM434 371h4v1h-4zM439 371h1v1h-1zM444 371h2v1h-2zM448 371h40v1h-40zM489 371h1v1h-1zM491 371h1v1h-1zM29 372h116v1h-116zM146 372h2v1h-2zM150 372h1v1h-1zM159 372h1v1h-1zM208 372h4v1h-4zM215 372h2v1h-2zM218 372h1v1h-1zM220 372h46v1h-46zM267 372h8v1h-8zM277 372h5v1h-5zM284 372h12v1h-12zM297 372h1v1h-1zM300 372h25v1h-25zM382 372h3v1h-3zM386 372h3v1h-3zM391 372h1v1h-1zM393 372h1v1h-1zM395 372h2v1h-2zM398 372h25v1h-25zM426 372h1v1h-1zM429 372h3v1h-3zM435 372h5v1h-5zM442 372h5v1h-5zM448 372h39v1h-39zM490 372h1v1h-1zM497 372h1v1h-1zM499 372h1v1h-1zM29 373h119v1h-119zM155 373h1v1h-1zM206 373h6v1h-6zM213 373h1v1h-1zM215 373h6v1h-6zM222 373h37v1h-37zM260 373h1v1h-1zM262 373h5v1h-5zM268 373h1v1h-1zM270 373h2v1h-2zM275 373h1v1h-1zM279 373h2v1h-2zM282 373h2v1h-2zM285 373h3v1h-3zM289 373h3v1h-3zM293 373h5v1h-5zM300 373h24v1h-24zM327 373h1v1h-1zM332 373h1v1h-1zM335 373h1v1h-1zM382 373h6v1h-6zM389 373h1v1h-1zM391 373h2v1h-2zM398 373h24v1h-24zM423 373h3v1h-3zM427 373h4v1h-4zM432 373h2v1h-2zM437 373h1v1h-1zM439 373h6v1h-6zM448 373h39v1h-39zM488 373h2v1h-2zM494 373h1v1h-1zM497 373h2v1h-2zM29 374h118v1h-118zM150 374h1v1h-1zM153 374h1v1h-1zM160 374h1v1h-1zM207 374h3v1h-3zM211 374h46v1h-46zM258 374h2v1h-2zM261 374h5v1h-5zM267 374h1v1h-1zM270 374h3v1h-3zM274 374h2v1h-2zM277 374h1v1h-1zM279 374h1v1h-1zM282 374h3v1h-3zM286 374h1v1h-1zM289 374h2v1h-2zM292 374h1v1h-1zM295 374h6v1h-6zM302 374h23v1h-23zM331 374h1v1h-1zM334 374h1v1h-1zM383 374h3v1h-3zM387 374h3v1h-3zM391 374h6v1h-6zM399 374h23v1h-23zM424 374h1v1h-1zM426 374h5v1h-5zM432 374h6v1h-6zM439 374h9v1h-9zM449 374h38v1h-38zM489 374h1v1h-1zM495 374h1v1h-1zM29 375h82v1h-82zM112 375h38v1h-38zM206 375h1v1h-1zM209 375h4v1h-4zM214 375h4v1h-4zM219 375h36v1h-36zM256 375h4v1h-4zM261 375h1v1h-1zM266 375h1v1h-1zM271 375h3v1h-3zM275 375h1v1h-1zM277 375h1v1h-1zM280 375h2v1h-2zM283 375h1v1h-1zM286 375h4v1h-4zM291 375h3v1h-3zM295 375h7v1h-7zM303 375h22v1h-22zM333 375h1v1h-1zM383 375h2v1h-2zM386 375h6v1h-6zM396 375h4v1h-4zM402 375h21v1h-21zM424 375h1v1h-1zM427 375h2v1h-2zM430 375h2v1h-2zM434 375h6v1h-6zM441 375h1v1h-1zM443 375h4v1h-4zM448 375h40v1h-40zM489 375h1v1h-1zM491 375h1v1h-1zM494 375h1v1h-1zM29 376h96v1h-96zM126 376h22v1h-22zM154 376h1v1h-1zM207 376h2v1h-2zM211 376h6v1h-6zM218 376h37v1h-37zM257 376h4v1h-4zM263 376h3v1h-3zM271 376h1v1h-1zM274 376h1v1h-1zM276 376h2v1h-2zM280 376h1v1h-1zM282 376h3v1h-3zM286 376h3v1h-3zM290 376h5v1h-5zM296 376h30v1h-30zM327 376h1v1h-1zM333 376h1v1h-1zM382 376h2v1h-2zM387 376h2v1h-2zM390 376h2v1h-2zM393 376h2v1h-2zM398 376h2v1h-2zM401 376h1v1h-1zM404 376h18v1h-18zM424 376h1v1h-1zM426 376h2v1h-2zM429 376h2v1h-2zM432 376h4v1h-4zM438 376h2v1h-2zM441 376h1v1h-1zM443 376h2v1h-2zM446 376h1v1h-1zM448 376h41v1h-41zM490 376h1v1h-1zM29 377h120v1h-120zM151 377h2v1h-2zM158 377h1v1h-1zM206 377h1v1h-1zM208 377h4v1h-4zM213 377h7v1h-7zM221 377h31v1h-31zM253 377h3v1h-3zM257 377h3v1h-3zM261 377h4v1h-4zM266 377h2v1h-2zM271 377h3v1h-3zM275 377h2v1h-2zM279 377h2v1h-2zM283 377h1v1h-1zM286 377h2v1h-2zM290 377h2v1h-2zM295 377h30v1h-30zM326 377h1v1h-1zM329 377h1v1h-1zM383 377h1v1h-1zM385 377h3v1h-3zM389 377h1v1h-1zM391 377h5v1h-5zM397 377h2v1h-2zM400 377h23v1h-23zM424 377h3v1h-3zM429 377h3v1h-3zM434 377h1v1h-1zM436 377h1v1h-1zM439 377h4v1h-4zM444 377h3v1h-3zM448 377h4v1h-4zM453 377h36v1h-36zM490 377h1v1h-1zM496 377h1v1h-1zM503 377h1v1h-1zM29 378h121v1h-121zM152 378h1v1h-1zM158 378h1v1h-1zM206 378h2v1h-2zM209 378h2v1h-2zM212 378h3v1h-3zM216 378h36v1h-36zM253 378h5v1h-5zM259 378h7v1h-7zM267 378h3v1h-3zM271 378h4v1h-4zM278 378h2v1h-2zM281 378h3v1h-3zM287 378h1v1h-1zM289 378h3v1h-3zM293 378h4v1h-4zM299 378h26v1h-26zM326 378h2v1h-2zM382 378h4v1h-4zM387 378h7v1h-7zM395 378h5v1h-5zM401 378h3v1h-3zM407 378h13v1h-13zM421 378h2v1h-2zM424 378h2v1h-2zM428 378h2v1h-2zM431 378h1v1h-1zM433 378h1v1h-1zM435 378h1v1h-1zM437 378h5v1h-5zM444 378h2v1h-2zM447 378h45v1h-45zM494 378h1v1h-1zM29 379h74v1h-74zM104 379h45v1h-45zM153 379h1v1h-1zM206 379h1v1h-1zM208 379h4v1h-4zM213 379h37v1h-37zM252 379h3v1h-3zM256 379h3v1h-3zM260 379h4v1h-4zM266 379h2v1h-2zM269 379h2v1h-2zM272 379h3v1h-3zM276 379h2v1h-2zM279 379h1v1h-1zM282 379h1v1h-1zM284 379h4v1h-4zM290 379h1v1h-1zM292 379h31v1h-31zM324 379h2v1h-2zM382 379h1v1h-1zM387 379h1v1h-1zM390 379h4v1h-4zM395 379h1v1h-1zM399 379h19v1h-19zM419 379h2v1h-2zM422 379h1v1h-1zM425 379h2v1h-2zM428 379h2v1h-2zM432 379h2v1h-2zM440 379h1v1h-1zM443 379h3v1h-3zM448 379h4v1h-4zM453 379h1v1h-1zM455 379h35v1h-35zM491 379h1v1h-1zM29 380h61v1h-61zM91 380h57v1h-57zM151 380h1v1h-1zM206 380h1v1h-1zM208 380h6v1h-6zM215 380h7v1h-7zM223 380h24v1h-24zM249 380h3v1h-3zM253 380h6v1h-6zM260 380h1v1h-1zM265 380h1v1h-1zM269 380h1v1h-1zM271 380h1v1h-1zM278 380h5v1h-5zM284 380h3v1h-3zM288 380h1v1h-1zM290 380h1v1h-1zM292 380h2v1h-2zM296 380h3v1h-3zM300 380h24v1h-24zM325 380h2v1h-2zM329 380h1v1h-1zM382 380h2v1h-2zM385 380h5v1h-5zM392 380h1v1h-1zM394 380h4v1h-4zM399 380h1v1h-1zM402 380h1v1h-1zM404 380h16v1h-16zM421 380h2v1h-2zM424 380h2v1h-2zM427 380h1v1h-1zM430 380h1v1h-1zM433 380h1v1h-1zM435 380h1v1h-1zM437 380h1v1h-1zM439 380h2v1h-2zM443 380h1v1h-1zM445 380h5v1h-5zM451 380h2v1h-2zM454 380h39v1h-39zM502 380h1v1h-1zM29 381h82v1h-82zM112 381h36v1h-36zM155 381h1v1h-1zM208 381h6v1h-6zM215 381h2v1h-2zM218 381h1v1h-1zM220 381h27v1h-27zM248 381h2v1h-2zM251 381h1v1h-1zM253 381h1v1h-1zM255 381h3v1h-3zM260 381h2v1h-2zM263 381h1v1h-1zM266 381h1v1h-1zM268 381h4v1h-4zM274 381h3v1h-3zM279 381h3v1h-3zM285 381h2v1h-2zM288 381h2v1h-2zM291 381h1v1h-1zM293 381h5v1h-5zM299 381h25v1h-25zM387 381h2v1h-2zM390 381h1v1h-1zM392 381h1v1h-1zM395 381h1v1h-1zM397 381h1v1h-1zM400 381h3v1h-3zM405 381h16v1h-16zM422 381h4v1h-4zM427 381h8v1h-8zM436 381h3v1h-3zM440 381h2v1h-2zM444 381h8v1h-8zM453 381h38v1h-38zM492 381h1v1h-1zM496 381h1v1h-1zM29 382h120v1h-120zM152 382h1v1h-1zM206 382h4v1h-4zM211 382h2v1h-2zM214 382h1v1h-1zM218 382h35v1h-35zM254 382h4v1h-4zM260 382h3v1h-3zM264 382h10v1h-10zM276 382h1v1h-1zM278 382h1v1h-1zM280 382h2v1h-2zM284 382h1v1h-1zM287 382h2v1h-2zM290 382h1v1h-1zM292 382h1v1h-1zM296 382h3v1h-3zM300 382h26v1h-26zM327 382h1v1h-1zM382 382h1v1h-1zM384 382h2v1h-2zM387 382h2v1h-2zM391 382h1v1h-1zM395 382h5v1h-5zM402 382h3v1h-3zM406 382h13v1h-13zM420 382h2v1h-2zM423 382h1v1h-1zM425 382h2v1h-2zM428 382h2v1h-2zM431 382h1v1h-1zM433 382h1v1h-1zM444 382h1v1h-1zM447 382h1v1h-1zM450 382h1v1h-1zM452 382h3v1h-3zM457 382h35v1h-35zM29 383h57v1h-57zM87 383h60v1h-60zM207 383h2v1h-2zM210 383h12v1h-12zM223 383h18v1h-18zM242 383h5v1h-5zM249 383h10v1h-10zM262 383h1v1h-1zM264 383h1v1h-1zM268 383h1v1h-1zM270 383h1v1h-1zM272 383h1v1h-1zM274 383h1v1h-1zM276 383h2v1h-2zM282 383h1v1h-1zM284 383h1v1h-1zM287 383h1v1h-1zM291 383h1v1h-1zM293 383h1v1h-1zM296 383h6v1h-6zM303 383h20v1h-20zM383 383h2v1h-2zM387 383h5v1h-5zM394 383h1v1h-1zM396 383h1v1h-1zM398 383h1v1h-1zM401 383h27v1h-27zM431 383h1v1h-1zM434 383h4v1h-4zM441 383h2v1h-2zM444 383h5v1h-5zM450 383h6v1h-6zM457 383h35v1h-35zM498 383h1v1h-1zM29 384h70v1h-70zM100 384h49v1h-49zM207 384h2v1h-2zM210 384h3v1h-3zM214 384h3v1h-3zM218 384h33v1h-33zM253 384h1v1h-1zM256 384h3v1h-3zM260 384h3v1h-3zM264 384h6v1h-6zM272 384h1v1h-1zM276 384h1v1h-1zM278 384h2v1h-2zM281 384h2v1h-2zM285 384h2v1h-2zM288 384h8v1h-8zM297 384h27v1h-27zM382 384h1v1h-1zM384 384h6v1h-6zM392 384h1v1h-1zM395 384h3v1h-3zM400 384h1v1h-1zM402 384h2v1h-2zM405 384h13v1h-13zM421 384h5v1h-5zM428 384h3v1h-3zM436 384h3v1h-3zM441 384h1v1h-1zM444 384h11v1h-11zM456 384h34v1h-34zM29 385h59v1h-59zM89 385h11v1h-11zM101 385h9v1h-9zM111 385h37v1h-37zM149 385h1v1h-1zM154 385h1v1h-1zM206 385h1v1h-1zM208 385h6v1h-6zM215 385h2v1h-2zM218 385h3v1h-3zM222 385h9v1h-9zM232 385h11v1h-11zM244 385h2v1h-2zM247 385h2v1h-2zM250 385h5v1h-5zM258 385h2v1h-2zM261 385h5v1h-5zM267 385h1v1h-1zM271 385h2v1h-2zM274 385h1v1h-1zM276 385h5v1h-5zM282 385h2v1h-2zM286 385h1v1h-1zM290 385h3v1h-3zM295 385h2v1h-2zM300 385h2v1h-2zM303 385h20v1h-20zM383 385h1v1h-1zM387 385h2v1h-2zM390 385h2v1h-2zM394 385h3v1h-3zM398 385h1v1h-1zM400 385h4v1h-4zM407 385h14v1h-14zM422 385h2v1h-2zM425 385h1v1h-1zM427 385h1v1h-1zM429 385h4v1h-4zM434 385h2v1h-2zM437 385h1v1h-1zM439 385h3v1h-3zM445 385h1v1h-1zM447 385h1v1h-1zM449 385h1v1h-1zM454 385h2v1h-2zM457 385h33v1h-33zM491 385h1v1h-1zM494 385h1v1h-1zM29 386h120v1h-120zM152 386h1v1h-1zM206 386h2v1h-2zM210 386h2v1h-2zM213 386h2v1h-2zM216 386h6v1h-6zM224 386h5v1h-5zM230 386h2v1h-2zM233 386h2v1h-2zM236 386h4v1h-4zM242 386h4v1h-4zM247 386h3v1h-3zM251 386h1v1h-1zM253 386h1v1h-1zM255 386h2v1h-2zM258 386h1v1h-1zM261 386h1v1h-1zM264 386h2v1h-2zM267 386h3v1h-3zM272 386h1v1h-1zM274 386h1v1h-1zM276 386h3v1h-3zM280 386h1v1h-1zM282 386h4v1h-4zM287 386h2v1h-2zM291 386h2v1h-2zM296 386h3v1h-3zM300 386h3v1h-3zM305 386h21v1h-21zM382 386h1v1h-1zM384 386h1v1h-1zM386 386h7v1h-7zM394 386h4v1h-4zM399 386h7v1h-7zM407 386h1v1h-1zM409 386h12v1h-12zM422 386h1v1h-1zM428 386h10v1h-10zM439 386h1v1h-1zM441 386h2v1h-2zM444 386h1v1h-1zM447 386h2v1h-2zM450 386h2v1h-2zM453 386h36v1h-36zM29 387h58v1h-58zM88 387h6v1h-6zM95 387h56v1h-56zM155 387h1v1h-1zM206 387h1v1h-1zM211 387h3v1h-3zM216 387h3v1h-3zM220 387h6v1h-6zM227 387h2v1h-2zM231 387h7v1h-7zM239 387h2v1h-2zM242 387h4v1h-4zM248 387h1v1h-1zM250 387h2v1h-2zM254 387h2v1h-2zM258 387h3v1h-3zM262 387h5v1h-5zM268 387h1v1h-1zM270 387h2v1h-2zM273 387h1v1h-1zM276 387h1v1h-1zM278 387h3v1h-3zM282 387h4v1h-4zM290 387h1v1h-1zM292 387h3v1h-3zM296 387h7v1h-7zM304 387h20v1h-20zM326 387h1v1h-1zM382 387h4v1h-4zM387 387h1v1h-1zM390 387h2v1h-2zM396 387h1v1h-1zM398 387h4v1h-4zM404 387h3v1h-3zM409 387h8v1h-8zM419 387h6v1h-6zM427 387h7v1h-7zM435 387h1v1h-1zM438 387h1v1h-1zM441 387h3v1h-3zM445 387h1v1h-1zM448 387h1v1h-1zM451 387h4v1h-4zM457 387h32v1h-32zM491 387h1v1h-1zM498 387h1v1h-1zM29 388h121v1h-121zM151 388h1v1h-1zM155 388h1v1h-1zM206 388h3v1h-3zM210 388h6v1h-6zM217 388h5v1h-5zM223 388h1v1h-1zM225 388h2v1h-2zM228 388h2v1h-2zM232 388h3v1h-3zM236 388h6v1h-6zM244 388h1v1h-1zM246 388h1v1h-1zM248 388h1v1h-1zM250 388h5v1h-5zM258 388h2v1h-2zM263 388h1v1h-1zM268 388h1v1h-1zM270 388h1v1h-1zM272 388h1v1h-1zM276 388h1v1h-1zM278 388h1v1h-1zM280 388h2v1h-2zM285 388h4v1h-4zM290 388h2v1h-2zM293 388h4v1h-4zM298 388h1v1h-1zM300 388h1v1h-1zM302 388h1v1h-1zM304 388h21v1h-21zM327 388h1v1h-1zM329 388h1v1h-1zM383 388h2v1h-2zM386 388h5v1h-5zM394 388h1v1h-1zM396 388h2v1h-2zM399 388h1v1h-1zM401 388h3v1h-3zM405 388h1v1h-1zM407 388h3v1h-3zM411 388h7v1h-7zM420 388h2v1h-2zM423 388h1v1h-1zM426 388h3v1h-3zM432 388h1v1h-1zM438 388h2v1h-2zM441 388h3v1h-3zM445 388h1v1h-1zM447 388h3v1h-3zM451 388h1v1h-1zM453 388h3v1h-3zM457 388h32v1h-32zM491 388h1v1h-1zM494 388h1v1h-1zM499 388h1v1h-1zM505 388h1v1h-1zM29 389h68v1h-68zM98 389h12v1h-12zM111 389h1v1h-1zM113 389h36v1h-36zM150 389h1v1h-1zM154 389h1v1h-1zM206 389h2v1h-2zM209 389h6v1h-6zM216 389h5v1h-5zM222 389h3v1h-3zM226 389h1v1h-1zM228 389h1v1h-1zM231 389h3v1h-3zM235 389h7v1h-7zM244 389h3v1h-3zM251 389h1v1h-1zM253 389h1v1h-1zM255 389h1v1h-1zM258 389h7v1h-7zM266 389h3v1h-3zM271 389h1v1h-1zM274 389h1v1h-1zM277 389h2v1h-2zM283 389h1v1h-1zM285 389h1v1h-1zM287 389h2v1h-2zM291 389h1v1h-1zM293 389h1v1h-1zM295 389h1v1h-1zM297 389h5v1h-5zM303 389h22v1h-22zM384 389h3v1h-3zM389 389h3v1h-3zM395 389h1v1h-1zM398 389h1v1h-1zM402 389h1v1h-1zM405 389h13v1h-13zM419 389h1v1h-1zM421 389h1v1h-1zM423 389h2v1h-2zM426 389h2v1h-2zM430 389h1v1h-1zM432 389h3v1h-3zM436 389h3v1h-3zM441 389h1v1h-1zM449 389h3v1h-3zM453 389h2v1h-2zM456 389h1v1h-1zM458 389h34v1h-34zM493 389h1v1h-1zM29 390h69v1h-69zM99 390h2v1h-2zM102 390h3v1h-3zM107 390h41v1h-41zM149 390h1v1h-1zM155 390h1v1h-1zM157 390h1v1h-1zM206 390h1v1h-1zM210 390h5v1h-5zM216 390h6v1h-6zM223 390h3v1h-3zM227 390h2v1h-2zM232 390h6v1h-6zM239 390h1v1h-1zM241 390h5v1h-5zM247 390h4v1h-4zM252 390h2v1h-2zM256 390h2v1h-2zM260 390h1v1h-1zM262 390h12v1h-12zM279 390h2v1h-2zM283 390h1v1h-1zM287 390h1v1h-1zM289 390h1v1h-1zM292 390h2v1h-2zM295 390h4v1h-4zM301 390h23v1h-23zM383 390h2v1h-2zM386 390h3v1h-3zM393 390h7v1h-7zM401 390h4v1h-4zM406 390h15v1h-15zM422 390h18v1h-18zM441 390h4v1h-4zM447 390h3v1h-3zM451 390h1v1h-1zM453 390h1v1h-1zM455 390h1v1h-1zM458 390h29v1h-29zM490 390h3v1h-3zM29 391h58v1h-58zM88 391h29v1h-29zM118 391h31v1h-31zM152 391h1v1h-1zM206 391h24v1h-24zM233 391h2v1h-2zM236 391h2v1h-2zM239 391h1v1h-1zM241 391h3v1h-3zM245 391h5v1h-5zM251 391h1v1h-1zM253 391h2v1h-2zM260 391h2v1h-2zM263 391h1v1h-1zM265 391h3v1h-3zM272 391h2v1h-2zM276 391h1v1h-1zM278 391h1v1h-1zM284 391h2v1h-2zM287 391h1v1h-1zM289 391h2v1h-2zM293 391h2v1h-2zM297 391h2v1h-2zM300 391h1v1h-1zM302 391h2v1h-2zM305 391h19v1h-19zM326 391h1v1h-1zM382 391h1v1h-1zM384 391h4v1h-4zM390 391h4v1h-4zM395 391h3v1h-3zM401 391h1v1h-1zM403 391h3v1h-3zM407 391h19v1h-19zM427 391h1v1h-1zM429 391h2v1h-2zM434 391h4v1h-4zM441 391h4v1h-4zM446 391h1v1h-1zM448 391h11v1h-11zM460 391h28v1h-28zM490 391h1v1h-1zM29 392h61v1h-61zM91 392h18v1h-18zM110 392h38v1h-38zM149 392h1v1h-1zM151 392h2v1h-2zM208 392h2v1h-2zM211 392h11v1h-11zM223 392h1v1h-1zM225 392h3v1h-3zM229 392h2v1h-2zM233 392h1v1h-1zM235 392h1v1h-1zM237 392h6v1h-6zM244 392h3v1h-3zM248 392h1v1h-1zM250 392h3v1h-3zM256 392h1v1h-1zM258 392h2v1h-2zM261 392h1v1h-1zM263 392h1v1h-1zM267 392h3v1h-3zM271 392h1v1h-1zM273 392h1v1h-1zM277 392h5v1h-5zM285 392h1v1h-1zM292 392h2v1h-2zM295 392h1v1h-1zM297 392h4v1h-4zM302 392h22v1h-22zM329 392h1v1h-1zM382 392h3v1h-3zM387 392h5v1h-5zM393 392h3v1h-3zM397 392h7v1h-7zM405 392h1v1h-1zM408 392h11v1h-11zM420 392h1v1h-1zM422 392h1v1h-1zM425 392h6v1h-6zM433 392h1v1h-1zM435 392h1v1h-1zM438 392h1v1h-1zM442 392h2v1h-2zM446 392h1v1h-1zM449 392h1v1h-1zM451 392h1v1h-1zM453 392h1v1h-1zM455 392h4v1h-4zM460 392h29v1h-29zM490 392h1v1h-1zM492 392h1v1h-1zM29 393h118v1h-118zM151 393h1v1h-1zM153 393h1v1h-1zM156 393h1v1h-1zM206 393h15v1h-15zM222 393h1v1h-1zM224 393h1v1h-1zM230 393h1v1h-1zM232 393h1v1h-1zM236 393h2v1h-2zM241 393h11v1h-11zM256 393h2v1h-2zM262 393h1v1h-1zM265 393h1v1h-1zM268 393h5v1h-5zM275 393h1v1h-1zM277 393h1v1h-1zM280 393h1v1h-1zM283 393h1v1h-1zM285 393h6v1h-6zM292 393h1v1h-1zM294 393h3v1h-3zM298 393h1v1h-1zM300 393h1v1h-1zM302 393h1v1h-1zM304 393h19v1h-19zM382 393h2v1h-2zM386 393h1v1h-1zM389 393h2v1h-2zM392 393h1v1h-1zM395 393h1v1h-1zM398 393h4v1h-4zM403 393h2v1h-2zM407 393h14v1h-14zM422 393h2v1h-2zM425 393h6v1h-6zM432 393h3v1h-3zM436 393h2v1h-2zM439 393h1v1h-1zM441 393h8v1h-8zM452 393h1v1h-1zM455 393h32v1h-32zM488 393h3v1h-3zM29 394h119v1h-119zM151 394h2v1h-2zM206 394h2v1h-2zM210 394h4v1h-4zM215 394h3v1h-3zM219 394h3v1h-3zM224 394h1v1h-1zM227 394h1v1h-1zM230 394h1v1h-1zM233 394h1v1h-1zM235 394h2v1h-2zM238 394h1v1h-1zM240 394h3v1h-3zM244 394h9v1h-9zM254 394h2v1h-2zM257 394h1v1h-1zM259 394h5v1h-5zM265 394h3v1h-3zM269 394h3v1h-3zM275 394h2v1h-2zM280 394h1v1h-1zM286 394h1v1h-1zM288 394h1v1h-1zM292 394h1v1h-1zM295 394h28v1h-28zM383 394h6v1h-6zM390 394h1v1h-1zM392 394h7v1h-7zM403 394h8v1h-8zM412 394h5v1h-5zM419 394h1v1h-1zM421 394h1v1h-1zM423 394h3v1h-3zM427 394h3v1h-3zM431 394h4v1h-4zM436 394h1v1h-1zM438 394h2v1h-2zM443 394h1v1h-1zM445 394h1v1h-1zM447 394h1v1h-1zM449 394h1v1h-1zM451 394h1v1h-1zM453 394h1v1h-1zM457 394h16v1h-16zM474 394h16v1h-16zM491 394h2v1h-2zM29 395h16v1h-16zM46 395h101v1h-101zM148 395h1v1h-1zM150 395h2v1h-2zM155 395h2v1h-2zM208 395h4v1h-4zM213 395h2v1h-2zM216 395h2v1h-2zM219 395h10v1h-10zM230 395h4v1h-4zM237 395h1v1h-1zM240 395h1v1h-1zM243 395h2v1h-2zM247 395h1v1h-1zM249 395h4v1h-4zM257 395h2v1h-2zM264 395h2v1h-2zM267 395h1v1h-1zM269 395h1v1h-1zM271 395h1v1h-1zM273 395h1v1h-1zM276 395h1v1h-1zM281 395h1v1h-1zM284 395h1v1h-1zM289 395h1v1h-1zM292 395h2v1h-2zM299 395h2v1h-2zM304 395h18v1h-18zM328 395h1v1h-1zM383 395h3v1h-3zM387 395h7v1h-7zM395 395h3v1h-3zM400 395h2v1h-2zM403 395h2v1h-2zM406 395h2v1h-2zM409 395h1v1h-1zM412 395h1v1h-1zM414 395h5v1h-5zM420 395h4v1h-4zM425 395h23v1h-23zM449 395h1v1h-1zM451 395h6v1h-6zM458 395h14v1h-14zM473 395h1v1h-1zM475 395h12v1h-12zM490 395h1v1h-1zM29 396h16v1h-16zM47 396h10v1h-10zM58 396h90v1h-90zM149 396h1v1h-1zM154 396h1v1h-1zM206 396h5v1h-5zM212 396h6v1h-6zM219 396h3v1h-3zM225 396h2v1h-2zM230 396h2v1h-2zM234 396h9v1h-9zM244 396h2v1h-2zM248 396h1v1h-1zM251 396h1v1h-1zM255 396h1v1h-1zM257 396h1v1h-1zM262 396h4v1h-4zM268 396h4v1h-4zM274 396h1v1h-1zM276 396h1v1h-1zM280 396h1v1h-1zM283 396h1v1h-1zM286 396h1v1h-1zM289 396h2v1h-2zM292 396h1v1h-1zM294 396h2v1h-2zM299 396h2v1h-2zM302 396h1v1h-1zM304 396h19v1h-19zM324 396h1v1h-1zM384 396h11v1h-11zM396 396h1v1h-1zM398 396h1v1h-1zM400 396h1v1h-1zM402 396h4v1h-4zM407 396h1v1h-1zM414 396h3v1h-3zM418 396h1v1h-1zM421 396h3v1h-3zM425 396h2v1h-2zM428 396h9v1h-9zM438 396h3v1h-3zM442 396h5v1h-5zM448 396h4v1h-4zM453 396h3v1h-3zM458 396h13v1h-13zM473 396h2v1h-2zM476 396h12v1h-12zM489 396h1v1h-1zM493 396h1v1h-1z" fill="#000" shape-rendering="crispEdges"/>
<text x="-0.60" y="243.30" font-size="25" font-weight="bold" text-anchor="start" style="stroke-width:0.6px">C</text>
<text x="94.50" y="262.90" font-size="18.5" font-weight="bold" text-anchor="middle" style="stroke:none">D0: 1.06%</text>
<rect x="29.00" y="272.80" width="131.90" height="124.80" fill="none" stroke="#000" stroke-width="1.1"/>
<line x1="121.50" y1="272.80" x2="121.50" y2="397.60" stroke="#000" stroke-width="1.1" />
<line x1="29.00" y1="321.40" x2="160.90" y2="321.40" stroke="#000" stroke-width="1.1" />
<line x1="29.00" y1="397.60" x2="29.00" y2="402.20" stroke="#000" stroke-width="0.9" />
<line x1="29.00" y1="397.60" x2="24.40" y2="397.60" stroke="#000" stroke-width="0.9" />
<line x1="38.93" y1="397.60" x2="38.93" y2="400.60" stroke="#000" stroke-width="0.9" />
<line x1="29.00" y1="388.21" x2="26.00" y2="388.21" stroke="#000" stroke-width="0.9" />
<line x1="44.73" y1="397.60" x2="44.73" y2="400.60" stroke="#000" stroke-width="0.9" />
<line x1="29.00" y1="382.71" x2="26.00" y2="382.71" stroke="#000" stroke-width="0.9" />
<line x1="48.85" y1="397.60" x2="48.85" y2="400.60" stroke="#000" stroke-width="0.9" />
<line x1="29.00" y1="378.82" x2="26.00" y2="378.82" stroke="#000" stroke-width="0.9" />
<line x1="52.05" y1="397.60" x2="52.05" y2="400.60" stroke="#000" stroke-width="0.9" />
<line x1="29.00" y1="375.79" x2="26.00" y2="375.79" stroke="#000" stroke-width="0.9" />
<line x1="54.66" y1="397.60" x2="54.66" y2="400.60" stroke="#000" stroke-width="0.9" />
<line x1="29.00" y1="373.32" x2="26.00" y2="373.32" stroke="#000" stroke-width="0.9" />
<line x1="56.87" y1="397.60" x2="56.87" y2="400.60" stroke="#000" stroke-width="0.9" />
<line x1="29.00" y1="371.23" x2="26.00" y2="371.23" stroke="#000" stroke-width="0.9" />
<line x1="58.78" y1="397.60" x2="58.78" y2="400.60" stroke="#000" stroke-width="0.9" />
<line x1="29.00" y1="369.42" x2="26.00" y2="369.42" stroke="#000" stroke-width="0.9" />
<line x1="60.47" y1="397.60" x2="60.47" y2="400.60" stroke="#000" stroke-width="0.9" />
<line x1="29.00" y1="367.83" x2="26.00" y2="367.83" stroke="#000" stroke-width="0.9" />
<line x1="61.98" y1="397.60" x2="61.98" y2="402.20" stroke="#000" stroke-width="0.9" />
<line x1="29.00" y1="366.40" x2="24.40" y2="366.40" stroke="#000" stroke-width="0.9" />
<line x1="71.90" y1="397.60" x2="71.90" y2="400.60" stroke="#000" stroke-width="0.9" />
<line x1="29.00" y1="357.01" x2="26.00" y2="357.01" stroke="#000" stroke-width="0.9" />
<line x1="77.71" y1="397.60" x2="77.71" y2="400.60" stroke="#000" stroke-width="0.9" />
<line x1="29.00" y1="351.51" x2="26.00" y2="351.51" stroke="#000" stroke-width="0.9" />
<line x1="81.83" y1="397.60" x2="81.83" y2="400.60" stroke="#000" stroke-width="0.9" />
<line x1="29.00" y1="347.62" x2="26.00" y2="347.62" stroke="#000" stroke-width="0.9" />
<line x1="85.02" y1="397.60" x2="85.02" y2="400.60" stroke="#000" stroke-width="0.9" />
<line x1="29.00" y1="344.59" x2="26.00" y2="344.59" stroke="#000" stroke-width="0.9" />
<line x1="87.63" y1="397.60" x2="87.63" y2="400.60" stroke="#000" stroke-width="0.9" />
<line x1="29.00" y1="342.12" x2="26.00" y2="342.12" stroke="#000" stroke-width="0.9" />
<line x1="89.84" y1="397.60" x2="89.84" y2="400.60" stroke="#000" stroke-width="0.9" />
<line x1="29.00" y1="340.03" x2="26.00" y2="340.03" stroke="#000" stroke-width="0.9" />
<line x1="91.75" y1="397.60" x2="91.75" y2="400.60" stroke="#000" stroke-width="0.9" />
<line x1="29.00" y1="338.22" x2="26.00" y2="338.22" stroke="#000" stroke-width="0.9" />
<line x1="93.44" y1="397.60" x2="93.44" y2="400.60" stroke="#000" stroke-width="0.9" />
<line x1="29.00" y1="336.63" x2="26.00" y2="336.63" stroke="#000" stroke-width="0.9" />
<line x1="94.95" y1="397.60" x2="94.95" y2="402.20" stroke="#000" stroke-width="0.9" />
<line x1="29.00" y1="335.20" x2="24.40" y2="335.20" stroke="#000" stroke-width="0.9" />
<line x1="104.88" y1="397.60" x2="104.88" y2="400.60" stroke="#000" stroke-width="0.9" />
<line x1="29.00" y1="325.81" x2="26.00" y2="325.81" stroke="#000" stroke-width="0.9" />
<line x1="110.68" y1="397.60" x2="110.68" y2="400.60" stroke="#000" stroke-width="0.9" />
<line x1="29.00" y1="320.31" x2="26.00" y2="320.31" stroke="#000" stroke-width="0.9" />
<line x1="114.80" y1="397.60" x2="114.80" y2="400.60" stroke="#000" stroke-width="0.9" />
<line x1="29.00" y1="316.42" x2="26.00" y2="316.42" stroke="#000" stroke-width="0.9" />
<line x1="118.00" y1="397.60" x2="118.00" y2="400.60" stroke="#000" stroke-width="0.9" />
<line x1="29.00" y1="313.39" x2="26.00" y2="313.39" stroke="#000" stroke-width="0.9" />
<line x1="120.61" y1="397.60" x2="120.61" y2="400.60" stroke="#000" stroke-width="0.9" />
<line x1="29.00" y1="310.92" x2="26.00" y2="310.92" stroke="#000" stroke-width="0.9" />
<line x1="122.82" y1="397.60" x2="122.82" y2="400.60" stroke="#000" stroke-width="0.9" />
<line x1="29.00" y1="308.83" x2="26.00" y2="308.83" stroke="#000" stroke-width="0.9" />
<line x1="124.73" y1="397.60" x2="124.73" y2="400.60" stroke="#000" stroke-width="0.9" />
<line x1="29.00" y1="307.02" x2="26.00" y2="307.02" stroke="#000" stroke-width="0.9" />
<line x1="126.42" y1="397.60" x2="126.42" y2="400.60" stroke="#000" stroke-width="0.9" />
<line x1="29.00" y1="305.43" x2="26.00" y2="305.43" stroke="#000" stroke-width="0.9" />
<line x1="127.93" y1="397.60" x2="127.93" y2="402.20" stroke="#000" stroke-width="0.9" />
<line x1="29.00" y1="304.00" x2="24.40" y2="304.00" stroke="#000" stroke-width="0.9" />
<line x1="137.85" y1="397.60" x2="137.85" y2="400.60" stroke="#000" stroke-width="0.9" />
<line x1="29.00" y1="294.61" x2="26.00" y2="294.61" stroke="#000" stroke-width="0.9" />
<line x1="143.66" y1="397.60" x2="143.66" y2="400.60" stroke="#000" stroke-width="0.9" />
<line x1="29.00" y1="289.11" x2="26.00" y2="289.11" stroke="#000" stroke-width="0.9" />
<line x1="147.78" y1="397.60" x2="147.78" y2="400.60" stroke="#000" stroke-width="0.9" />
<line x1="29.00" y1="285.22" x2="26.00" y2="285.22" stroke="#000" stroke-width="0.9" />
<line x1="150.97" y1="397.60" x2="150.97" y2="400.60" stroke="#000" stroke-width="0.9" />
<line x1="29.00" y1="282.19" x2="26.00" y2="282.19" stroke="#000" stroke-width="0.9" />
<line x1="153.58" y1="397.60" x2="153.58" y2="400.60" stroke="#000" stroke-width="0.9" />
<line x1="29.00" y1="279.72" x2="26.00" y2="279.72" stroke="#000" stroke-width="0.9" />
<line x1="155.79" y1="397.60" x2="155.79" y2="400.60" stroke="#000" stroke-width="0.9" />
<line x1="29.00" y1="277.63" x2="26.00" y2="277.63" stroke="#000" stroke-width="0.9" />
<line x1="157.70" y1="397.60" x2="157.70" y2="400.60" stroke="#000" stroke-width="0.9" />
<line x1="29.00" y1="275.82" x2="26.00" y2="275.82" stroke="#000" stroke-width="0.9" />
<line x1="159.39" y1="397.60" x2="159.39" y2="400.60" stroke="#000" stroke-width="0.9" />
<line x1="29.00" y1="274.23" x2="26.00" y2="274.23" stroke="#000" stroke-width="0.9" />
<line x1="160.90" y1="397.60" x2="160.90" y2="402.20" stroke="#000" stroke-width="0.9" />
<line x1="29.00" y1="272.80" x2="24.40" y2="272.80" stroke="#000" stroke-width="0.9" />
<text transform="translate(23.80,414.50) scale(0.88,1)" font-size="9.3">10<tspan dy="-5.2" font-size="8.8">0</tspan></text>
<text transform="translate(21.00,405.60) rotate(-90) scale(0.88,1)" font-size="9.3">10<tspan dx="1.6" dy="-5.4" font-size="8.8">0</tspan></text>
<text transform="translate(56.77,414.50) scale(0.88,1)" font-size="9.3">10<tspan dy="-5.2" font-size="8.8">1</tspan></text>
<text transform="translate(21.00,374.40) rotate(-90) scale(0.88,1)" font-size="9.3">10<tspan dx="1.6" dy="-5.4" font-size="8.8">1</tspan></text>
<text transform="translate(89.75,414.50) scale(0.88,1)" font-size="9.3">10<tspan dy="-5.2" font-size="8.8">2</tspan></text>
<text transform="translate(21.00,343.20) rotate(-90) scale(0.88,1)" font-size="9.3">10<tspan dx="1.6" dy="-5.4" font-size="8.8">2</tspan></text>
<text transform="translate(122.73,414.50) scale(0.88,1)" font-size="9.3">10<tspan dy="-5.2" font-size="8.8">3</tspan></text>
<text transform="translate(21.00,312.00) rotate(-90) scale(0.88,1)" font-size="9.3">10<tspan dx="1.6" dy="-5.4" font-size="8.8">3</tspan></text>
<text transform="translate(155.70,414.50) scale(0.88,1)" font-size="9.3">10<tspan dy="-5.2" font-size="8.8">4</tspan></text>
<text transform="translate(21.00,280.80) rotate(-90) scale(0.88,1)" font-size="9.3">10<tspan dx="1.6" dy="-5.4" font-size="8.8">4</tspan></text>
<text transform="translate(94.95,424.90) scale(0.96,1)" font-size="9" text-anchor="middle">CD8 PC5</text>
<text transform="translate(9.70,336.00) rotate(-90)" font-size="10" text-anchor="middle" textLength="46.5" lengthAdjust="spacingAndGlyphs">TETRA PE</text>
<text x="270.20" y="262.90" font-size="18.5" font-weight="bold" text-anchor="middle" style="stroke:none">D1: 0.32%</text>
<rect x="205.40" y="273.20" width="130.80" height="124.70" fill="none" stroke="#000" stroke-width="1.1"/>
<line x1="296.70" y1="273.20" x2="296.70" y2="397.90" stroke="#000" stroke-width="1.1" />
<line x1="205.40" y1="314.20" x2="336.20" y2="314.20" stroke="#000" stroke-width="1.1" />
<line x1="205.40" y1="397.90" x2="205.40" y2="402.50" stroke="#000" stroke-width="0.9" />
<line x1="205.40" y1="397.90" x2="200.80" y2="397.90" stroke="#000" stroke-width="0.9" />
<line x1="215.24" y1="397.90" x2="215.24" y2="400.90" stroke="#000" stroke-width="0.9" />
<line x1="205.40" y1="388.52" x2="202.40" y2="388.52" stroke="#000" stroke-width="0.9" />
<line x1="221.00" y1="397.90" x2="221.00" y2="400.90" stroke="#000" stroke-width="0.9" />
<line x1="205.40" y1="383.03" x2="202.40" y2="383.03" stroke="#000" stroke-width="0.9" />
<line x1="225.09" y1="397.90" x2="225.09" y2="400.90" stroke="#000" stroke-width="0.9" />
<line x1="205.40" y1="379.13" x2="202.40" y2="379.13" stroke="#000" stroke-width="0.9" />
<line x1="228.26" y1="397.90" x2="228.26" y2="400.90" stroke="#000" stroke-width="0.9" />
<line x1="205.40" y1="376.11" x2="202.40" y2="376.11" stroke="#000" stroke-width="0.9" />
<line x1="230.85" y1="397.90" x2="230.85" y2="400.90" stroke="#000" stroke-width="0.9" />
<line x1="205.40" y1="373.64" x2="202.40" y2="373.64" stroke="#000" stroke-width="0.9" />
<line x1="233.03" y1="397.90" x2="233.03" y2="400.90" stroke="#000" stroke-width="0.9" />
<line x1="205.40" y1="371.55" x2="202.40" y2="371.55" stroke="#000" stroke-width="0.9" />
<line x1="234.93" y1="397.90" x2="234.93" y2="400.90" stroke="#000" stroke-width="0.9" />
<line x1="205.40" y1="369.75" x2="202.40" y2="369.75" stroke="#000" stroke-width="0.9" />
<line x1="236.60" y1="397.90" x2="236.60" y2="400.90" stroke="#000" stroke-width="0.9" />
<line x1="205.40" y1="368.15" x2="202.40" y2="368.15" stroke="#000" stroke-width="0.9" />
<line x1="238.10" y1="397.90" x2="238.10" y2="402.50" stroke="#000" stroke-width="0.9" />
<line x1="205.40" y1="366.72" x2="200.80" y2="366.72" stroke="#000" stroke-width="0.9" />
<line x1="247.94" y1="397.90" x2="247.94" y2="400.90" stroke="#000" stroke-width="0.9" />
<line x1="205.40" y1="357.34" x2="202.40" y2="357.34" stroke="#000" stroke-width="0.9" />
<line x1="253.70" y1="397.90" x2="253.70" y2="400.90" stroke="#000" stroke-width="0.9" />
<line x1="205.40" y1="351.85" x2="202.40" y2="351.85" stroke="#000" stroke-width="0.9" />
<line x1="257.79" y1="397.90" x2="257.79" y2="400.90" stroke="#000" stroke-width="0.9" />
<line x1="205.40" y1="347.96" x2="202.40" y2="347.96" stroke="#000" stroke-width="0.9" />
<line x1="260.96" y1="397.90" x2="260.96" y2="400.90" stroke="#000" stroke-width="0.9" />
<line x1="205.40" y1="344.93" x2="202.40" y2="344.93" stroke="#000" stroke-width="0.9" />
<line x1="263.55" y1="397.90" x2="263.55" y2="400.90" stroke="#000" stroke-width="0.9" />
<line x1="205.40" y1="342.47" x2="202.40" y2="342.47" stroke="#000" stroke-width="0.9" />
<line x1="265.73" y1="397.90" x2="265.73" y2="400.90" stroke="#000" stroke-width="0.9" />
<line x1="205.40" y1="340.38" x2="202.40" y2="340.38" stroke="#000" stroke-width="0.9" />
<line x1="267.63" y1="397.90" x2="267.63" y2="400.90" stroke="#000" stroke-width="0.9" />
<line x1="205.40" y1="338.57" x2="202.40" y2="338.57" stroke="#000" stroke-width="0.9" />
<line x1="269.30" y1="397.90" x2="269.30" y2="400.90" stroke="#000" stroke-width="0.9" />
<line x1="205.40" y1="336.98" x2="202.40" y2="336.98" stroke="#000" stroke-width="0.9" />
<line x1="270.80" y1="397.90" x2="270.80" y2="402.50" stroke="#000" stroke-width="0.9" />
<line x1="205.40" y1="335.55" x2="200.80" y2="335.55" stroke="#000" stroke-width="0.9" />
<line x1="280.64" y1="397.90" x2="280.64" y2="400.90" stroke="#000" stroke-width="0.9" />
<line x1="205.40" y1="326.17" x2="202.40" y2="326.17" stroke="#000" stroke-width="0.9" />
<line x1="286.40" y1="397.90" x2="286.40" y2="400.90" stroke="#000" stroke-width="0.9" />
<line x1="205.40" y1="320.68" x2="202.40" y2="320.68" stroke="#000" stroke-width="0.9" />
<line x1="290.49" y1="397.90" x2="290.49" y2="400.90" stroke="#000" stroke-width="0.9" />
<line x1="205.40" y1="316.78" x2="202.40" y2="316.78" stroke="#000" stroke-width="0.9" />
<line x1="293.66" y1="397.90" x2="293.66" y2="400.90" stroke="#000" stroke-width="0.9" />
<line x1="205.40" y1="313.76" x2="202.40" y2="313.76" stroke="#000" stroke-width="0.9" />
<line x1="296.25" y1="397.90" x2="296.25" y2="400.90" stroke="#000" stroke-width="0.9" />
<line x1="205.40" y1="311.29" x2="202.40" y2="311.29" stroke="#000" stroke-width="0.9" />
<line x1="298.43" y1="397.90" x2="298.43" y2="400.90" stroke="#000" stroke-width="0.9" />
<line x1="205.40" y1="309.20" x2="202.40" y2="309.20" stroke="#000" stroke-width="0.9" />
<line x1="300.33" y1="397.90" x2="300.33" y2="400.90" stroke="#000" stroke-width="0.9" />
<line x1="205.40" y1="307.40" x2="202.40" y2="307.40" stroke="#000" stroke-width="0.9" />
<line x1="302.00" y1="397.90" x2="302.00" y2="400.90" stroke="#000" stroke-width="0.9" />
<line x1="205.40" y1="305.80" x2="202.40" y2="305.80" stroke="#000" stroke-width="0.9" />
<line x1="303.50" y1="397.90" x2="303.50" y2="402.50" stroke="#000" stroke-width="0.9" />
<line x1="205.40" y1="304.38" x2="200.80" y2="304.38" stroke="#000" stroke-width="0.9" />
<line x1="313.34" y1="397.90" x2="313.34" y2="400.90" stroke="#000" stroke-width="0.9" />
<line x1="205.40" y1="294.99" x2="202.40" y2="294.99" stroke="#000" stroke-width="0.9" />
<line x1="319.10" y1="397.90" x2="319.10" y2="400.90" stroke="#000" stroke-width="0.9" />
<line x1="205.40" y1="289.50" x2="202.40" y2="289.50" stroke="#000" stroke-width="0.9" />
<line x1="323.19" y1="397.90" x2="323.19" y2="400.90" stroke="#000" stroke-width="0.9" />
<line x1="205.40" y1="285.61" x2="202.40" y2="285.61" stroke="#000" stroke-width="0.9" />
<line x1="326.36" y1="397.90" x2="326.36" y2="400.90" stroke="#000" stroke-width="0.9" />
<line x1="205.40" y1="282.58" x2="202.40" y2="282.58" stroke="#000" stroke-width="0.9" />
<line x1="328.95" y1="397.90" x2="328.95" y2="400.90" stroke="#000" stroke-width="0.9" />
<line x1="205.40" y1="280.12" x2="202.40" y2="280.12" stroke="#000" stroke-width="0.9" />
<line x1="331.13" y1="397.90" x2="331.13" y2="400.90" stroke="#000" stroke-width="0.9" />
<line x1="205.40" y1="278.03" x2="202.40" y2="278.03" stroke="#000" stroke-width="0.9" />
<line x1="333.03" y1="397.90" x2="333.03" y2="400.90" stroke="#000" stroke-width="0.9" />
<line x1="205.40" y1="276.22" x2="202.40" y2="276.22" stroke="#000" stroke-width="0.9" />
<line x1="334.70" y1="397.90" x2="334.70" y2="400.90" stroke="#000" stroke-width="0.9" />
<line x1="205.40" y1="274.63" x2="202.40" y2="274.63" stroke="#000" stroke-width="0.9" />
<line x1="336.20" y1="397.90" x2="336.20" y2="402.50" stroke="#000" stroke-width="0.9" />
<line x1="205.40" y1="273.20" x2="200.80" y2="273.20" stroke="#000" stroke-width="0.9" />
<text transform="translate(200.20,412.40) scale(0.88,1)" font-size="9.3">10<tspan dy="-5.2" font-size="8.8">0</tspan></text>
<text transform="translate(197.40,404.40) rotate(-90) scale(0.88,1)" font-size="9.3">10<tspan dx="1.6" dy="-5.4" font-size="8.8">0</tspan></text>
<text transform="translate(232.90,412.40) scale(0.88,1)" font-size="9.3">10<tspan dy="-5.2" font-size="8.8">1</tspan></text>
<text transform="translate(197.40,373.22) rotate(-90) scale(0.88,1)" font-size="9.3">10<tspan dx="1.6" dy="-5.4" font-size="8.8">1</tspan></text>
<text transform="translate(265.60,412.40) scale(0.88,1)" font-size="9.3">10<tspan dy="-5.2" font-size="8.8">2</tspan></text>
<text transform="translate(197.40,342.05) rotate(-90) scale(0.88,1)" font-size="9.3">10<tspan dx="1.6" dy="-5.4" font-size="8.8">2</tspan></text>
<text transform="translate(298.30,412.40) scale(0.88,1)" font-size="9.3">10<tspan dy="-5.2" font-size="8.8">3</tspan></text>
<text transform="translate(197.40,310.88) rotate(-90) scale(0.88,1)" font-size="9.3">10<tspan dx="1.6" dy="-5.4" font-size="8.8">3</tspan></text>
<text transform="translate(331.00,412.40) scale(0.88,1)" font-size="9.3">10<tspan dy="-5.2" font-size="8.8">4</tspan></text>
<text transform="translate(197.40,279.70) rotate(-90) scale(0.88,1)" font-size="9.3">10<tspan dx="1.6" dy="-5.4" font-size="8.8">4</tspan></text>
<text transform="translate(270.80,422.20) scale(0.96,1)" font-size="9" text-anchor="middle">CD8 PC5</text>
<text transform="translate(186.10,338.85) rotate(-90)" font-size="10" text-anchor="middle" textLength="46.5" lengthAdjust="spacingAndGlyphs">TETRA PE</text>
<text x="449.30" y="262.90" font-size="18.5" font-weight="bold" text-anchor="middle" style="stroke:none">D12: 1.10%</text>
<rect x="381.70" y="272.70" width="130.80" height="124.80" fill="none" stroke="#000" stroke-width="1.1"/>
<line x1="449.40" y1="272.70" x2="449.40" y2="397.50" stroke="#000" stroke-width="1.1" />
<line x1="381.70" y1="303.30" x2="512.50" y2="303.30" stroke="#000" stroke-width="1.1" />
<line x1="381.70" y1="397.50" x2="381.70" y2="402.10" stroke="#000" stroke-width="0.9" />
<line x1="381.70" y1="397.50" x2="377.10" y2="397.50" stroke="#000" stroke-width="0.9" />
<line x1="391.54" y1="397.50" x2="391.54" y2="400.50" stroke="#000" stroke-width="0.9" />
<line x1="381.70" y1="388.11" x2="378.70" y2="388.11" stroke="#000" stroke-width="0.9" />
<line x1="397.30" y1="397.50" x2="397.30" y2="400.50" stroke="#000" stroke-width="0.9" />
<line x1="381.70" y1="382.61" x2="378.70" y2="382.61" stroke="#000" stroke-width="0.9" />
<line x1="401.39" y1="397.50" x2="401.39" y2="400.50" stroke="#000" stroke-width="0.9" />
<line x1="381.70" y1="378.72" x2="378.70" y2="378.72" stroke="#000" stroke-width="0.9" />
<line x1="404.56" y1="397.50" x2="404.56" y2="400.50" stroke="#000" stroke-width="0.9" />
<line x1="381.70" y1="375.69" x2="378.70" y2="375.69" stroke="#000" stroke-width="0.9" />
<line x1="407.15" y1="397.50" x2="407.15" y2="400.50" stroke="#000" stroke-width="0.9" />
<line x1="381.70" y1="373.22" x2="378.70" y2="373.22" stroke="#000" stroke-width="0.9" />
<line x1="409.33" y1="397.50" x2="409.33" y2="400.50" stroke="#000" stroke-width="0.9" />
<line x1="381.70" y1="371.13" x2="378.70" y2="371.13" stroke="#000" stroke-width="0.9" />
<line x1="411.23" y1="397.50" x2="411.23" y2="400.50" stroke="#000" stroke-width="0.9" />
<line x1="381.70" y1="369.32" x2="378.70" y2="369.32" stroke="#000" stroke-width="0.9" />
<line x1="412.90" y1="397.50" x2="412.90" y2="400.50" stroke="#000" stroke-width="0.9" />
<line x1="381.70" y1="367.73" x2="378.70" y2="367.73" stroke="#000" stroke-width="0.9" />
<line x1="414.40" y1="397.50" x2="414.40" y2="402.10" stroke="#000" stroke-width="0.9" />
<line x1="381.70" y1="366.30" x2="377.10" y2="366.30" stroke="#000" stroke-width="0.9" />
<line x1="424.24" y1="397.50" x2="424.24" y2="400.50" stroke="#000" stroke-width="0.9" />
<line x1="381.70" y1="356.91" x2="378.70" y2="356.91" stroke="#000" stroke-width="0.9" />
<line x1="430.00" y1="397.50" x2="430.00" y2="400.50" stroke="#000" stroke-width="0.9" />
<line x1="381.70" y1="351.41" x2="378.70" y2="351.41" stroke="#000" stroke-width="0.9" />
<line x1="434.09" y1="397.50" x2="434.09" y2="400.50" stroke="#000" stroke-width="0.9" />
<line x1="381.70" y1="347.52" x2="378.70" y2="347.52" stroke="#000" stroke-width="0.9" />
<line x1="437.26" y1="397.50" x2="437.26" y2="400.50" stroke="#000" stroke-width="0.9" />
<line x1="381.70" y1="344.49" x2="378.70" y2="344.49" stroke="#000" stroke-width="0.9" />
<line x1="439.85" y1="397.50" x2="439.85" y2="400.50" stroke="#000" stroke-width="0.9" />
<line x1="381.70" y1="342.02" x2="378.70" y2="342.02" stroke="#000" stroke-width="0.9" />
<line x1="442.03" y1="397.50" x2="442.03" y2="400.50" stroke="#000" stroke-width="0.9" />
<line x1="381.70" y1="339.93" x2="378.70" y2="339.93" stroke="#000" stroke-width="0.9" />
<line x1="443.93" y1="397.50" x2="443.93" y2="400.50" stroke="#000" stroke-width="0.9" />
<line x1="381.70" y1="338.12" x2="378.70" y2="338.12" stroke="#000" stroke-width="0.9" />
<line x1="445.60" y1="397.50" x2="445.60" y2="400.50" stroke="#000" stroke-width="0.9" />
<line x1="381.70" y1="336.53" x2="378.70" y2="336.53" stroke="#000" stroke-width="0.9" />
<line x1="447.10" y1="397.50" x2="447.10" y2="402.10" stroke="#000" stroke-width="0.9" />
<line x1="381.70" y1="335.10" x2="377.10" y2="335.10" stroke="#000" stroke-width="0.9" />
<line x1="456.94" y1="397.50" x2="456.94" y2="400.50" stroke="#000" stroke-width="0.9" />
<line x1="381.70" y1="325.71" x2="378.70" y2="325.71" stroke="#000" stroke-width="0.9" />
<line x1="462.70" y1="397.50" x2="462.70" y2="400.50" stroke="#000" stroke-width="0.9" />
<line x1="381.70" y1="320.21" x2="378.70" y2="320.21" stroke="#000" stroke-width="0.9" />
<line x1="466.79" y1="397.50" x2="466.79" y2="400.50" stroke="#000" stroke-width="0.9" />
<line x1="381.70" y1="316.32" x2="378.70" y2="316.32" stroke="#000" stroke-width="0.9" />
<line x1="469.96" y1="397.50" x2="469.96" y2="400.50" stroke="#000" stroke-width="0.9" />
<line x1="381.70" y1="313.29" x2="378.70" y2="313.29" stroke="#000" stroke-width="0.9" />
<line x1="472.55" y1="397.50" x2="472.55" y2="400.50" stroke="#000" stroke-width="0.9" />
<line x1="381.70" y1="310.82" x2="378.70" y2="310.82" stroke="#000" stroke-width="0.9" />
<line x1="474.73" y1="397.50" x2="474.73" y2="400.50" stroke="#000" stroke-width="0.9" />
<line x1="381.70" y1="308.73" x2="378.70" y2="308.73" stroke="#000" stroke-width="0.9" />
<line x1="476.63" y1="397.50" x2="476.63" y2="400.50" stroke="#000" stroke-width="0.9" />
<line x1="381.70" y1="306.92" x2="378.70" y2="306.92" stroke="#000" stroke-width="0.9" />
<line x1="478.30" y1="397.50" x2="478.30" y2="400.50" stroke="#000" stroke-width="0.9" />
<line x1="381.70" y1="305.33" x2="378.70" y2="305.33" stroke="#000" stroke-width="0.9" />
<line x1="479.80" y1="397.50" x2="479.80" y2="402.10" stroke="#000" stroke-width="0.9" />
<line x1="381.70" y1="303.90" x2="377.10" y2="303.90" stroke="#000" stroke-width="0.9" />
<line x1="489.64" y1="397.50" x2="489.64" y2="400.50" stroke="#000" stroke-width="0.9" />
<line x1="381.70" y1="294.51" x2="378.70" y2="294.51" stroke="#000" stroke-width="0.9" />
<line x1="495.40" y1="397.50" x2="495.40" y2="400.50" stroke="#000" stroke-width="0.9" />
<line x1="381.70" y1="289.01" x2="378.70" y2="289.01" stroke="#000" stroke-width="0.9" />
<line x1="499.49" y1="397.50" x2="499.49" y2="400.50" stroke="#000" stroke-width="0.9" />
<line x1="381.70" y1="285.12" x2="378.70" y2="285.12" stroke="#000" stroke-width="0.9" />
<line x1="502.66" y1="397.50" x2="502.66" y2="400.50" stroke="#000" stroke-width="0.9" />
<line x1="381.70" y1="282.09" x2="378.70" y2="282.09" stroke="#000" stroke-width="0.9" />
<line x1="505.25" y1="397.50" x2="505.25" y2="400.50" stroke="#000" stroke-width="0.9" />
<line x1="381.70" y1="279.62" x2="378.70" y2="279.62" stroke="#000" stroke-width="0.9" />
<line x1="507.43" y1="397.50" x2="507.43" y2="400.50" stroke="#000" stroke-width="0.9" />
<line x1="381.70" y1="277.53" x2="378.70" y2="277.53" stroke="#000" stroke-width="0.9" />
<line x1="509.33" y1="397.50" x2="509.33" y2="400.50" stroke="#000" stroke-width="0.9" />
<line x1="381.70" y1="275.72" x2="378.70" y2="275.72" stroke="#000" stroke-width="0.9" />
<line x1="511.00" y1="397.50" x2="511.00" y2="400.50" stroke="#000" stroke-width="0.9" />
<line x1="381.70" y1="274.13" x2="378.70" y2="274.13" stroke="#000" stroke-width="0.9" />
<line x1="512.50" y1="397.50" x2="512.50" y2="402.10" stroke="#000" stroke-width="0.9" />
<line x1="381.70" y1="272.70" x2="377.10" y2="272.70" stroke="#000" stroke-width="0.9" />
<text transform="translate(376.50,413.40) scale(0.88,1)" font-size="9.3">10<tspan dy="-5.2" font-size="8.8">0</tspan></text>
<text transform="translate(373.70,405.50) rotate(-90) scale(0.88,1)" font-size="9.3">10<tspan dx="1.6" dy="-5.4" font-size="8.8">0</tspan></text>
<text transform="translate(409.20,413.40) scale(0.88,1)" font-size="9.3">10<tspan dy="-5.2" font-size="8.8">1</tspan></text>
<text transform="translate(373.70,374.30) rotate(-90) scale(0.88,1)" font-size="9.3">10<tspan dx="1.6" dy="-5.4" font-size="8.8">1</tspan></text>
<text transform="translate(441.90,413.40) scale(0.88,1)" font-size="9.3">10<tspan dy="-5.2" font-size="8.8">2</tspan></text>
<text transform="translate(373.70,343.10) rotate(-90) scale(0.88,1)" font-size="9.3">10<tspan dx="1.6" dy="-5.4" font-size="8.8">2</tspan></text>
<text transform="translate(474.60,413.40) scale(0.88,1)" font-size="9.3">10<tspan dy="-5.2" font-size="8.8">3</tspan></text>
<text transform="translate(373.70,311.90) rotate(-90) scale(0.88,1)" font-size="9.3">10<tspan dx="1.6" dy="-5.4" font-size="8.8">3</tspan></text>
<text transform="translate(507.30,413.40) scale(0.88,1)" font-size="9.3">10<tspan dy="-5.2" font-size="8.8">4</tspan></text>
<text transform="translate(373.70,280.70) rotate(-90) scale(0.88,1)" font-size="9.3">10<tspan dx="1.6" dy="-5.4" font-size="8.8">4</tspan></text>
<text transform="translate(447.10,424.00) scale(0.96,1)" font-size="9" text-anchor="middle">CD8 PC5</text>
<text transform="translate(362.40,335.90) rotate(-90)" font-size="10" text-anchor="middle" textLength="46.5" lengthAdjust="spacingAndGlyphs">TETRA PE</text>
</svg>
</body></html>
